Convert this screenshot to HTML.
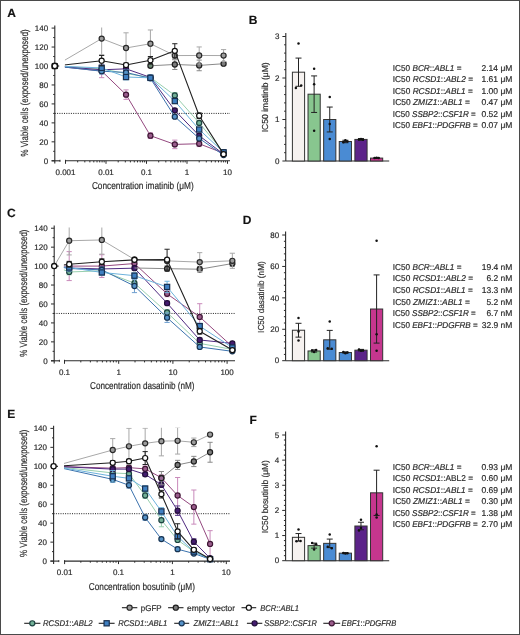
<!DOCTYPE html>
<html><head><meta charset="utf-8"><title>Figure</title>
<style>html,body{margin:0;padding:0;background:#fff;} svg{display:block;will-change:transform;} text{font-family:"Liberation Sans",sans-serif;stroke:#2a2a2a;stroke-width:0.18px;}</style>
</head><body>
<svg width="520" height="635" viewBox="0 0 520 635">
<rect x="0" y="0" width="520" height="635" fill="#fff"/>
<clipPath id="clipA"><rect x="64.90" y="10.800000000000011" width="200" height="160"/></clipPath>
<line x1="54.80" y1="113.40" x2="230.00" y2="113.40" stroke="#222" stroke-width="1" stroke-dasharray="1 1.3"/>
<line x1="54.8" y1="25.48" x2="54.8" y2="163.60" stroke="#2b2b2b" stroke-width="1.1"/>
<line x1="51.60" y1="160.80" x2="54.8" y2="160.80" stroke="#2b2b2b" stroke-width="1"/>
<text x="48.20" y="163.70" font-size="8" text-anchor="end" fill="#2a2a2a" font-family="Liberation Sans, sans-serif" text-rendering="geometricPrecision">0</text>
<line x1="53.20" y1="151.32" x2="54.8" y2="151.32" stroke="#2b2b2b" stroke-width="1"/>
<line x1="51.60" y1="141.84" x2="54.8" y2="141.84" stroke="#2b2b2b" stroke-width="1"/>
<text x="48.20" y="144.74" font-size="8" text-anchor="end" fill="#2a2a2a" font-family="Liberation Sans, sans-serif" text-rendering="geometricPrecision">20</text>
<line x1="53.20" y1="132.36" x2="54.8" y2="132.36" stroke="#2b2b2b" stroke-width="1"/>
<line x1="51.60" y1="122.88" x2="54.8" y2="122.88" stroke="#2b2b2b" stroke-width="1"/>
<text x="48.20" y="125.78" font-size="8" text-anchor="end" fill="#2a2a2a" font-family="Liberation Sans, sans-serif" text-rendering="geometricPrecision">40</text>
<line x1="53.20" y1="113.40" x2="54.8" y2="113.40" stroke="#2b2b2b" stroke-width="1"/>
<line x1="51.60" y1="103.92" x2="54.8" y2="103.92" stroke="#2b2b2b" stroke-width="1"/>
<text x="48.20" y="106.82" font-size="8" text-anchor="end" fill="#2a2a2a" font-family="Liberation Sans, sans-serif" text-rendering="geometricPrecision">60</text>
<line x1="53.20" y1="94.44" x2="54.8" y2="94.44" stroke="#2b2b2b" stroke-width="1"/>
<line x1="51.60" y1="84.96" x2="54.8" y2="84.96" stroke="#2b2b2b" stroke-width="1"/>
<text x="48.20" y="87.86" font-size="8" text-anchor="end" fill="#2a2a2a" font-family="Liberation Sans, sans-serif" text-rendering="geometricPrecision">80</text>
<line x1="53.20" y1="75.48" x2="54.8" y2="75.48" stroke="#2b2b2b" stroke-width="1"/>
<line x1="51.60" y1="66.00" x2="54.8" y2="66.00" stroke="#2b2b2b" stroke-width="1"/>
<text x="48.20" y="68.90" font-size="8" text-anchor="end" fill="#2a2a2a" font-family="Liberation Sans, sans-serif" text-rendering="geometricPrecision">100</text>
<line x1="53.20" y1="56.52" x2="54.8" y2="56.52" stroke="#2b2b2b" stroke-width="1"/>
<line x1="51.60" y1="47.04" x2="54.8" y2="47.04" stroke="#2b2b2b" stroke-width="1"/>
<text x="48.20" y="49.94" font-size="8" text-anchor="end" fill="#2a2a2a" font-family="Liberation Sans, sans-serif" text-rendering="geometricPrecision">120</text>
<line x1="53.20" y1="37.56" x2="54.8" y2="37.56" stroke="#2b2b2b" stroke-width="1"/>
<line x1="51.60" y1="28.08" x2="54.8" y2="28.08" stroke="#2b2b2b" stroke-width="1"/>
<text x="48.20" y="30.98" font-size="8" text-anchor="end" fill="#2a2a2a" font-family="Liberation Sans, sans-serif" text-rendering="geometricPrecision">140</text>
<line x1="51.599999999999994" y1="160.80" x2="60.00" y2="160.80" stroke="#2b2b2b" stroke-width="1.1"/>
<line x1="60.00" y1="159.80" x2="60.00" y2="161.80" stroke="#2b2b2b" stroke-width="1"/>
<line x1="65.50" y1="160.80" x2="230.00" y2="160.80" stroke="#2b2b2b" stroke-width="1.1"/>
<line x1="65.50" y1="159.80" x2="65.50" y2="161.80" stroke="#2b2b2b" stroke-width="1"/>
<line x1="65.50" y1="160.80" x2="65.50" y2="163.80" stroke="#2b2b2b" stroke-width="1"/>
<line x1="77.69" y1="160.80" x2="77.69" y2="162.40" stroke="#2b2b2b" stroke-width="1"/>
<line x1="84.82" y1="160.80" x2="84.82" y2="162.40" stroke="#2b2b2b" stroke-width="1"/>
<line x1="89.88" y1="160.80" x2="89.88" y2="162.40" stroke="#2b2b2b" stroke-width="1"/>
<line x1="93.81" y1="160.80" x2="93.81" y2="162.40" stroke="#2b2b2b" stroke-width="1"/>
<line x1="97.02" y1="160.80" x2="97.02" y2="162.40" stroke="#2b2b2b" stroke-width="1"/>
<line x1="99.73" y1="160.80" x2="99.73" y2="162.40" stroke="#2b2b2b" stroke-width="1"/>
<line x1="102.08" y1="160.80" x2="102.08" y2="162.40" stroke="#2b2b2b" stroke-width="1"/>
<line x1="104.15" y1="160.80" x2="104.15" y2="162.40" stroke="#2b2b2b" stroke-width="1"/>
<line x1="106.00" y1="160.80" x2="106.00" y2="163.80" stroke="#2b2b2b" stroke-width="1"/>
<line x1="118.19" y1="160.80" x2="118.19" y2="162.40" stroke="#2b2b2b" stroke-width="1"/>
<line x1="125.32" y1="160.80" x2="125.32" y2="162.40" stroke="#2b2b2b" stroke-width="1"/>
<line x1="130.38" y1="160.80" x2="130.38" y2="162.40" stroke="#2b2b2b" stroke-width="1"/>
<line x1="134.31" y1="160.80" x2="134.31" y2="162.40" stroke="#2b2b2b" stroke-width="1"/>
<line x1="137.52" y1="160.80" x2="137.52" y2="162.40" stroke="#2b2b2b" stroke-width="1"/>
<line x1="140.23" y1="160.80" x2="140.23" y2="162.40" stroke="#2b2b2b" stroke-width="1"/>
<line x1="142.58" y1="160.80" x2="142.58" y2="162.40" stroke="#2b2b2b" stroke-width="1"/>
<line x1="144.65" y1="160.80" x2="144.65" y2="162.40" stroke="#2b2b2b" stroke-width="1"/>
<line x1="146.50" y1="160.80" x2="146.50" y2="163.80" stroke="#2b2b2b" stroke-width="1"/>
<line x1="158.69" y1="160.80" x2="158.69" y2="162.40" stroke="#2b2b2b" stroke-width="1"/>
<line x1="165.82" y1="160.80" x2="165.82" y2="162.40" stroke="#2b2b2b" stroke-width="1"/>
<line x1="170.88" y1="160.80" x2="170.88" y2="162.40" stroke="#2b2b2b" stroke-width="1"/>
<line x1="174.81" y1="160.80" x2="174.81" y2="162.40" stroke="#2b2b2b" stroke-width="1"/>
<line x1="178.02" y1="160.80" x2="178.02" y2="162.40" stroke="#2b2b2b" stroke-width="1"/>
<line x1="180.73" y1="160.80" x2="180.73" y2="162.40" stroke="#2b2b2b" stroke-width="1"/>
<line x1="183.08" y1="160.80" x2="183.08" y2="162.40" stroke="#2b2b2b" stroke-width="1"/>
<line x1="185.15" y1="160.80" x2="185.15" y2="162.40" stroke="#2b2b2b" stroke-width="1"/>
<line x1="187.00" y1="160.80" x2="187.00" y2="163.80" stroke="#2b2b2b" stroke-width="1"/>
<line x1="199.19" y1="160.80" x2="199.19" y2="162.40" stroke="#2b2b2b" stroke-width="1"/>
<line x1="206.32" y1="160.80" x2="206.32" y2="162.40" stroke="#2b2b2b" stroke-width="1"/>
<line x1="211.38" y1="160.80" x2="211.38" y2="162.40" stroke="#2b2b2b" stroke-width="1"/>
<line x1="215.31" y1="160.80" x2="215.31" y2="162.40" stroke="#2b2b2b" stroke-width="1"/>
<line x1="218.52" y1="160.80" x2="218.52" y2="162.40" stroke="#2b2b2b" stroke-width="1"/>
<line x1="221.23" y1="160.80" x2="221.23" y2="162.40" stroke="#2b2b2b" stroke-width="1"/>
<line x1="223.58" y1="160.80" x2="223.58" y2="162.40" stroke="#2b2b2b" stroke-width="1"/>
<line x1="225.65" y1="160.80" x2="225.65" y2="162.40" stroke="#2b2b2b" stroke-width="1"/>
<line x1="227.50" y1="160.80" x2="227.50" y2="163.80" stroke="#2b2b2b" stroke-width="1"/>
<text x="65.50" y="174.60" font-size="8" text-anchor="middle" fill="#2a2a2a" font-family="Liberation Sans, sans-serif" text-rendering="geometricPrecision">0.001</text>
<text x="106.00" y="174.60" font-size="8" text-anchor="middle" fill="#2a2a2a" font-family="Liberation Sans, sans-serif" text-rendering="geometricPrecision">0.01</text>
<text x="146.50" y="174.60" font-size="8" text-anchor="middle" fill="#2a2a2a" font-family="Liberation Sans, sans-serif" text-rendering="geometricPrecision">0.1</text>
<text x="187.00" y="174.60" font-size="8" text-anchor="middle" fill="#2a2a2a" font-family="Liberation Sans, sans-serif" text-rendering="geometricPrecision">1</text>
<text x="227.50" y="174.60" font-size="8" text-anchor="middle" fill="#2a2a2a" font-family="Liberation Sans, sans-serif" text-rendering="geometricPrecision">10</text>
<text x="91.90" y="189.20" font-size="10" fill="#2a2a2a" font-family="Liberation Sans, sans-serif" text-rendering="geometricPrecision" textLength="101.8" lengthAdjust="spacingAndGlyphs">Concentration imatinib (μM)</text>
<text transform="translate(28.4,156.6) rotate(-90)" x="0" y="0" font-size="10.3" fill="#2a2a2a" font-family="Liberation Sans, sans-serif" text-rendering="geometricPrecision" textLength="127.3" lengthAdjust="spacingAndGlyphs">% Viable cells (exposed/unexposed)</text>
<text x="7.3" y="16.9" font-size="12" font-weight="bold" fill="#111" stroke="#111" stroke-width="0.25" font-family="Liberation Sans, sans-serif" text-rendering="geometricPrecision">A</text>
<clipPath id="topA"><rect x="0" y="27.48" width="260" height="143.32"/></clipPath>
<g clip-path="url(#topA)">
<g clip-path="url(#clipA)"><polyline points="54.80,66.00 101.66,71.02 126.04,94.63 150.42,135.68 174.81,144.40 199.19,143.74 223.58,153.22" fill="none" stroke="#94487f" stroke-width="1.0" stroke-linejoin="round"/></g>
<line x1="101.66" y1="64.39" x2="101.66" y2="77.66" stroke="#c98abb" stroke-width="1"/>
<line x1="99.06" y1="64.39" x2="104.26" y2="64.39" stroke="#c98abb" stroke-width="1"/>
<line x1="99.06" y1="77.66" x2="104.26" y2="77.66" stroke="#c98abb" stroke-width="1"/>
<line x1="126.04" y1="89.89" x2="126.04" y2="99.37" stroke="#c98abb" stroke-width="1"/>
<line x1="123.44" y1="89.89" x2="128.64" y2="89.89" stroke="#c98abb" stroke-width="1"/>
<line x1="123.44" y1="99.37" x2="128.64" y2="99.37" stroke="#c98abb" stroke-width="1"/>
<line x1="150.42" y1="132.83" x2="150.42" y2="138.52" stroke="#c98abb" stroke-width="1"/>
<line x1="147.82" y1="132.83" x2="153.02" y2="132.83" stroke="#c98abb" stroke-width="1"/>
<line x1="147.82" y1="138.52" x2="153.02" y2="138.52" stroke="#c98abb" stroke-width="1"/>
<line x1="174.81" y1="140.13" x2="174.81" y2="148.67" stroke="#c98abb" stroke-width="1"/>
<line x1="172.21" y1="140.13" x2="177.41" y2="140.13" stroke="#c98abb" stroke-width="1"/>
<line x1="172.21" y1="148.67" x2="177.41" y2="148.67" stroke="#c98abb" stroke-width="1"/>
<line x1="199.19" y1="140.89" x2="199.19" y2="146.58" stroke="#c98abb" stroke-width="1"/>
<line x1="196.59" y1="140.89" x2="201.79" y2="140.89" stroke="#c98abb" stroke-width="1"/>
<line x1="196.59" y1="146.58" x2="201.79" y2="146.58" stroke="#c98abb" stroke-width="1"/>
<line x1="223.58" y1="152.27" x2="223.58" y2="154.16" stroke="#c98abb" stroke-width="1"/>
<line x1="220.98" y1="152.27" x2="226.18" y2="152.27" stroke="#c98abb" stroke-width="1"/>
<line x1="220.98" y1="154.16" x2="226.18" y2="154.16" stroke="#c98abb" stroke-width="1"/>
<circle cx="101.66" cy="71.02" r="2.55" fill="#9a5c8c" stroke="#3e1634" stroke-width="1.2"/>
<circle cx="126.04" cy="94.63" r="2.55" fill="#9a5c8c" stroke="#3e1634" stroke-width="1.2"/>
<circle cx="150.42" cy="135.68" r="2.55" fill="#9a5c8c" stroke="#3e1634" stroke-width="1.2"/>
<circle cx="174.81" cy="144.40" r="2.55" fill="#9a5c8c" stroke="#3e1634" stroke-width="1.2"/>
<circle cx="199.19" cy="143.74" r="2.55" fill="#9a5c8c" stroke="#3e1634" stroke-width="1.2"/>
<circle cx="223.58" cy="153.22" r="2.55" fill="#9a5c8c" stroke="#3e1634" stroke-width="1.2"/>
<g clip-path="url(#clipA)"><polyline points="54.80,66.00 101.66,68.84 126.04,73.58 150.42,77.38 174.81,95.39 199.19,122.88 223.58,152.27" fill="none" stroke="#98cfae" stroke-width="1.0" stroke-linejoin="round"/></g>
<line x1="174.81" y1="92.54" x2="174.81" y2="98.23" stroke="#98cfae" stroke-width="1"/>
<line x1="172.21" y1="92.54" x2="177.41" y2="92.54" stroke="#98cfae" stroke-width="1"/>
<line x1="172.21" y1="98.23" x2="177.41" y2="98.23" stroke="#98cfae" stroke-width="1"/>
<line x1="199.19" y1="120.98" x2="199.19" y2="124.78" stroke="#98cfae" stroke-width="1"/>
<line x1="196.59" y1="120.98" x2="201.79" y2="120.98" stroke="#98cfae" stroke-width="1"/>
<line x1="196.59" y1="124.78" x2="201.79" y2="124.78" stroke="#98cfae" stroke-width="1"/>
<line x1="223.58" y1="150.37" x2="223.58" y2="154.16" stroke="#98cfae" stroke-width="1"/>
<line x1="220.98" y1="150.37" x2="226.18" y2="150.37" stroke="#98cfae" stroke-width="1"/>
<line x1="220.98" y1="154.16" x2="226.18" y2="154.16" stroke="#98cfae" stroke-width="1"/>
<circle cx="101.66" cy="68.84" r="2.55" fill="#72b096" stroke="#1c4240" stroke-width="1.2"/>
<circle cx="126.04" cy="73.58" r="2.55" fill="#72b096" stroke="#1c4240" stroke-width="1.2"/>
<circle cx="150.42" cy="77.38" r="2.55" fill="#72b096" stroke="#1c4240" stroke-width="1.2"/>
<circle cx="174.81" cy="95.39" r="2.55" fill="#72b096" stroke="#1c4240" stroke-width="1.2"/>
<circle cx="199.19" cy="122.88" r="2.55" fill="#72b096" stroke="#1c4240" stroke-width="1.2"/>
<circle cx="223.58" cy="152.27" r="2.55" fill="#72b096" stroke="#1c4240" stroke-width="1.2"/>
<g clip-path="url(#clipA)"><polyline points="54.80,66.00 101.66,69.79 126.04,68.84 150.42,77.38 174.81,110.37 199.19,135.68 223.58,154.16" fill="none" stroke="#4f2a80" stroke-width="1.0" stroke-linejoin="round"/></g>
<line x1="174.81" y1="108.47" x2="174.81" y2="112.26" stroke="#5a3a88" stroke-width="1"/>
<line x1="172.21" y1="108.47" x2="177.41" y2="108.47" stroke="#5a3a88" stroke-width="1"/>
<line x1="172.21" y1="112.26" x2="177.41" y2="112.26" stroke="#5a3a88" stroke-width="1"/>
<line x1="199.19" y1="133.78" x2="199.19" y2="137.57" stroke="#5a3a88" stroke-width="1"/>
<line x1="196.59" y1="133.78" x2="201.79" y2="133.78" stroke="#5a3a88" stroke-width="1"/>
<line x1="196.59" y1="137.57" x2="201.79" y2="137.57" stroke="#5a3a88" stroke-width="1"/>
<line x1="223.58" y1="153.22" x2="223.58" y2="155.11" stroke="#5a3a88" stroke-width="1"/>
<line x1="220.98" y1="153.22" x2="226.18" y2="153.22" stroke="#5a3a88" stroke-width="1"/>
<line x1="220.98" y1="155.11" x2="226.18" y2="155.11" stroke="#5a3a88" stroke-width="1"/>
<circle cx="101.66" cy="69.79" r="2.55" fill="#441c70" stroke="#23103a" stroke-width="1.2"/>
<circle cx="126.04" cy="68.84" r="2.55" fill="#441c70" stroke="#23103a" stroke-width="1.2"/>
<circle cx="150.42" cy="77.38" r="2.55" fill="#441c70" stroke="#23103a" stroke-width="1.2"/>
<circle cx="174.81" cy="110.37" r="2.55" fill="#441c70" stroke="#23103a" stroke-width="1.2"/>
<circle cx="199.19" cy="135.68" r="2.55" fill="#441c70" stroke="#23103a" stroke-width="1.2"/>
<circle cx="223.58" cy="154.16" r="2.55" fill="#441c70" stroke="#23103a" stroke-width="1.2"/>
<g clip-path="url(#clipA)"><polyline points="54.80,66.00 101.66,71.21 126.04,72.45 150.42,78.32 174.81,116.72 199.19,138.43 223.58,155.11" fill="none" stroke="#3b72ad" stroke-width="1.0" stroke-linejoin="round"/></g>
<line x1="101.66" y1="68.37" x2="101.66" y2="74.06" stroke="#6f9fcf" stroke-width="1"/>
<line x1="99.06" y1="68.37" x2="104.26" y2="68.37" stroke="#6f9fcf" stroke-width="1"/>
<line x1="99.06" y1="74.06" x2="104.26" y2="74.06" stroke="#6f9fcf" stroke-width="1"/>
<line x1="126.04" y1="69.60" x2="126.04" y2="75.29" stroke="#6f9fcf" stroke-width="1"/>
<line x1="123.44" y1="69.60" x2="128.64" y2="69.60" stroke="#6f9fcf" stroke-width="1"/>
<line x1="123.44" y1="75.29" x2="128.64" y2="75.29" stroke="#6f9fcf" stroke-width="1"/>
<line x1="150.42" y1="76.43" x2="150.42" y2="80.22" stroke="#6f9fcf" stroke-width="1"/>
<line x1="147.82" y1="76.43" x2="153.02" y2="76.43" stroke="#6f9fcf" stroke-width="1"/>
<line x1="147.82" y1="80.22" x2="153.02" y2="80.22" stroke="#6f9fcf" stroke-width="1"/>
<line x1="174.81" y1="114.82" x2="174.81" y2="118.61" stroke="#6f9fcf" stroke-width="1"/>
<line x1="172.21" y1="114.82" x2="177.41" y2="114.82" stroke="#6f9fcf" stroke-width="1"/>
<line x1="172.21" y1="118.61" x2="177.41" y2="118.61" stroke="#6f9fcf" stroke-width="1"/>
<line x1="199.19" y1="136.53" x2="199.19" y2="140.32" stroke="#6f9fcf" stroke-width="1"/>
<line x1="196.59" y1="136.53" x2="201.79" y2="136.53" stroke="#6f9fcf" stroke-width="1"/>
<line x1="196.59" y1="140.32" x2="201.79" y2="140.32" stroke="#6f9fcf" stroke-width="1"/>
<line x1="223.58" y1="154.16" x2="223.58" y2="156.06" stroke="#6f9fcf" stroke-width="1"/>
<line x1="220.98" y1="154.16" x2="226.18" y2="154.16" stroke="#6f9fcf" stroke-width="1"/>
<line x1="220.98" y1="156.06" x2="226.18" y2="156.06" stroke="#6f9fcf" stroke-width="1"/>
<circle cx="101.66" cy="71.21" r="2.55" fill="#5592c8" stroke="#17324f" stroke-width="1.2"/>
<circle cx="126.04" cy="72.45" r="2.55" fill="#5592c8" stroke="#17324f" stroke-width="1.2"/>
<circle cx="150.42" cy="78.32" r="2.55" fill="#5592c8" stroke="#17324f" stroke-width="1.2"/>
<circle cx="174.81" cy="116.72" r="2.55" fill="#5592c8" stroke="#17324f" stroke-width="1.2"/>
<circle cx="199.19" cy="138.43" r="2.55" fill="#5592c8" stroke="#17324f" stroke-width="1.2"/>
<circle cx="223.58" cy="155.11" r="2.55" fill="#5592c8" stroke="#17324f" stroke-width="1.2"/>
<g clip-path="url(#clipA)"><polyline points="54.80,66.00 101.66,67.90 126.04,77.00 150.42,77.85 174.81,101.08 199.19,129.52 223.58,152.27" fill="none" stroke="#6cb2dc" stroke-width="1.0" stroke-linejoin="round"/></g>
<line x1="101.66" y1="65.05" x2="101.66" y2="70.74" stroke="#6cb2dc" stroke-width="1"/>
<line x1="99.06" y1="65.05" x2="104.26" y2="65.05" stroke="#6cb2dc" stroke-width="1"/>
<line x1="99.06" y1="70.74" x2="104.26" y2="70.74" stroke="#6cb2dc" stroke-width="1"/>
<line x1="126.04" y1="74.15" x2="126.04" y2="79.84" stroke="#6cb2dc" stroke-width="1"/>
<line x1="123.44" y1="74.15" x2="128.64" y2="74.15" stroke="#6cb2dc" stroke-width="1"/>
<line x1="123.44" y1="79.84" x2="128.64" y2="79.84" stroke="#6cb2dc" stroke-width="1"/>
<line x1="150.42" y1="75.01" x2="150.42" y2="80.69" stroke="#6cb2dc" stroke-width="1"/>
<line x1="147.82" y1="75.01" x2="153.02" y2="75.01" stroke="#6cb2dc" stroke-width="1"/>
<line x1="147.82" y1="80.69" x2="153.02" y2="80.69" stroke="#6cb2dc" stroke-width="1"/>
<line x1="174.81" y1="99.18" x2="174.81" y2="102.97" stroke="#6cb2dc" stroke-width="1"/>
<line x1="172.21" y1="99.18" x2="177.41" y2="99.18" stroke="#6cb2dc" stroke-width="1"/>
<line x1="172.21" y1="102.97" x2="177.41" y2="102.97" stroke="#6cb2dc" stroke-width="1"/>
<line x1="199.19" y1="127.62" x2="199.19" y2="131.41" stroke="#6cb2dc" stroke-width="1"/>
<line x1="196.59" y1="127.62" x2="201.79" y2="127.62" stroke="#6cb2dc" stroke-width="1"/>
<line x1="196.59" y1="131.41" x2="201.79" y2="131.41" stroke="#6cb2dc" stroke-width="1"/>
<line x1="223.58" y1="151.32" x2="223.58" y2="153.22" stroke="#6cb2dc" stroke-width="1"/>
<line x1="220.98" y1="151.32" x2="226.18" y2="151.32" stroke="#6cb2dc" stroke-width="1"/>
<line x1="220.98" y1="153.22" x2="226.18" y2="153.22" stroke="#6cb2dc" stroke-width="1"/>
<rect x="99.06" y="65.30" width="5.2" height="5.2" fill="#3f80c2" stroke="#182f4f" stroke-width="1.2"/>
<rect x="123.44" y="74.40" width="5.2" height="5.2" fill="#3f80c2" stroke="#182f4f" stroke-width="1.2"/>
<rect x="147.82" y="75.25" width="5.2" height="5.2" fill="#3f80c2" stroke="#182f4f" stroke-width="1.2"/>
<rect x="172.21" y="98.48" width="5.2" height="5.2" fill="#3f80c2" stroke="#182f4f" stroke-width="1.2"/>
<rect x="196.59" y="126.92" width="5.2" height="5.2" fill="#3f80c2" stroke="#182f4f" stroke-width="1.2"/>
<rect x="220.98" y="149.67" width="5.2" height="5.2" fill="#3f80c2" stroke="#182f4f" stroke-width="1.2"/>
<g clip-path="url(#clipA)"><polyline points="150.42,65.81 174.81,64.48 199.19,65.43 223.58,63.72" fill="none" stroke="#8a8a8a" stroke-width="1.0" stroke-linejoin="round"/></g>
<line x1="150.42" y1="63.91" x2="150.42" y2="67.71" stroke="#8a8a8a" stroke-width="1"/>
<line x1="147.82" y1="63.91" x2="153.02" y2="63.91" stroke="#8a8a8a" stroke-width="1"/>
<line x1="147.82" y1="67.71" x2="153.02" y2="67.71" stroke="#8a8a8a" stroke-width="1"/>
<line x1="174.81" y1="59.46" x2="174.81" y2="69.51" stroke="#8a8a8a" stroke-width="1"/>
<line x1="172.21" y1="59.46" x2="177.41" y2="59.46" stroke="#8a8a8a" stroke-width="1"/>
<line x1="172.21" y1="69.51" x2="177.41" y2="69.51" stroke="#8a8a8a" stroke-width="1"/>
<line x1="199.19" y1="60.12" x2="199.19" y2="70.74" stroke="#8a8a8a" stroke-width="1"/>
<line x1="196.59" y1="60.12" x2="201.79" y2="60.12" stroke="#8a8a8a" stroke-width="1"/>
<line x1="196.59" y1="70.74" x2="201.79" y2="70.74" stroke="#8a8a8a" stroke-width="1"/>
<line x1="223.58" y1="61.83" x2="223.58" y2="65.62" stroke="#8a8a8a" stroke-width="1"/>
<line x1="220.98" y1="61.83" x2="226.18" y2="61.83" stroke="#8a8a8a" stroke-width="1"/>
<line x1="220.98" y1="65.62" x2="226.18" y2="65.62" stroke="#8a8a8a" stroke-width="1"/>
<circle cx="150.42" cy="65.81" r="2.55" fill="#6f8a76" stroke="#1e1e1e" stroke-width="1.2"/>
<circle cx="174.81" cy="64.48" r="2.55" fill="#7c7c7c" stroke="#1e1e1e" stroke-width="1.2"/>
<circle cx="199.19" cy="65.43" r="2.55" fill="#7c7c7c" stroke="#1e1e1e" stroke-width="1.2"/>
<circle cx="223.58" cy="63.72" r="2.55" fill="#7c7c7c" stroke="#1e1e1e" stroke-width="1.2"/>
<g clip-path="url(#clipA)"><polyline points="54.80,66.00 101.66,38.60 126.04,47.99 150.42,43.72 174.81,55.57 199.19,55.48 223.58,55.57" fill="none" stroke="#a8a8a8" stroke-width="1.0" stroke-linejoin="round"/></g>
<line x1="101.66" y1="22.49" x2="101.66" y2="54.72" stroke="#a8a8a8" stroke-width="1"/>
<line x1="99.06" y1="22.49" x2="104.26" y2="22.49" stroke="#a8a8a8" stroke-width="1"/>
<line x1="99.06" y1="54.72" x2="104.26" y2="54.72" stroke="#a8a8a8" stroke-width="1"/>
<line x1="126.04" y1="32.82" x2="126.04" y2="63.16" stroke="#a8a8a8" stroke-width="1"/>
<line x1="123.44" y1="32.82" x2="128.64" y2="32.82" stroke="#a8a8a8" stroke-width="1"/>
<line x1="123.44" y1="63.16" x2="128.64" y2="63.16" stroke="#a8a8a8" stroke-width="1"/>
<line x1="150.42" y1="29.98" x2="150.42" y2="57.47" stroke="#a8a8a8" stroke-width="1"/>
<line x1="147.82" y1="29.98" x2="153.02" y2="29.98" stroke="#a8a8a8" stroke-width="1"/>
<line x1="147.82" y1="57.47" x2="153.02" y2="57.47" stroke="#a8a8a8" stroke-width="1"/>
<line x1="174.81" y1="51.31" x2="174.81" y2="59.84" stroke="#a8a8a8" stroke-width="1"/>
<line x1="172.21" y1="51.31" x2="177.41" y2="51.31" stroke="#a8a8a8" stroke-width="1"/>
<line x1="172.21" y1="59.84" x2="177.41" y2="59.84" stroke="#a8a8a8" stroke-width="1"/>
<line x1="199.19" y1="46.95" x2="199.19" y2="64.01" stroke="#a8a8a8" stroke-width="1"/>
<line x1="196.59" y1="46.95" x2="201.79" y2="46.95" stroke="#a8a8a8" stroke-width="1"/>
<line x1="196.59" y1="64.01" x2="201.79" y2="64.01" stroke="#a8a8a8" stroke-width="1"/>
<line x1="223.58" y1="49.60" x2="223.58" y2="61.54" stroke="#a8a8a8" stroke-width="1"/>
<line x1="220.98" y1="49.60" x2="226.18" y2="49.60" stroke="#a8a8a8" stroke-width="1"/>
<line x1="220.98" y1="61.54" x2="226.18" y2="61.54" stroke="#a8a8a8" stroke-width="1"/>
<circle cx="101.66" cy="38.60" r="2.55" fill="#9c9c9c" stroke="#2a2a2a" stroke-width="1.2"/>
<circle cx="126.04" cy="47.99" r="2.55" fill="#9c9c9c" stroke="#2a2a2a" stroke-width="1.2"/>
<circle cx="150.42" cy="43.72" r="2.55" fill="#9c9c9c" stroke="#2a2a2a" stroke-width="1.2"/>
<circle cx="174.81" cy="55.57" r="2.55" fill="#9c9c9c" stroke="#2a2a2a" stroke-width="1.2"/>
<circle cx="199.19" cy="55.48" r="2.55" fill="#9c9c9c" stroke="#2a2a2a" stroke-width="1.2"/>
<circle cx="223.58" cy="55.57" r="2.55" fill="#9c9c9c" stroke="#2a2a2a" stroke-width="1.2"/>
<g clip-path="url(#clipA)"><polyline points="54.80,66.00 101.66,60.69 126.04,65.05 150.42,60.31 174.81,50.83 199.19,115.77 223.58,154.16" fill="none" stroke="#222" stroke-width="1.1" stroke-linejoin="round"/></g>
<line x1="101.66" y1="55.48" x2="101.66" y2="65.91" stroke="#222" stroke-width="1"/>
<line x1="99.06" y1="55.48" x2="104.26" y2="55.48" stroke="#222" stroke-width="1"/>
<line x1="99.06" y1="65.91" x2="104.26" y2="65.91" stroke="#222" stroke-width="1"/>
<line x1="126.04" y1="63.16" x2="126.04" y2="66.95" stroke="#222" stroke-width="1"/>
<line x1="123.44" y1="63.16" x2="128.64" y2="63.16" stroke="#222" stroke-width="1"/>
<line x1="123.44" y1="66.95" x2="128.64" y2="66.95" stroke="#222" stroke-width="1"/>
<line x1="150.42" y1="56.52" x2="150.42" y2="64.10" stroke="#222" stroke-width="1"/>
<line x1="147.82" y1="56.52" x2="153.02" y2="56.52" stroke="#222" stroke-width="1"/>
<line x1="147.82" y1="64.10" x2="153.02" y2="64.10" stroke="#222" stroke-width="1"/>
<line x1="174.81" y1="43.72" x2="174.81" y2="57.94" stroke="#222" stroke-width="1"/>
<line x1="172.21" y1="43.72" x2="177.41" y2="43.72" stroke="#222" stroke-width="1"/>
<line x1="172.21" y1="57.94" x2="177.41" y2="57.94" stroke="#222" stroke-width="1"/>
<line x1="199.19" y1="112.93" x2="199.19" y2="118.61" stroke="#222" stroke-width="1"/>
<line x1="196.59" y1="112.93" x2="201.79" y2="112.93" stroke="#222" stroke-width="1"/>
<line x1="196.59" y1="118.61" x2="201.79" y2="118.61" stroke="#222" stroke-width="1"/>
<line x1="223.58" y1="153.22" x2="223.58" y2="155.11" stroke="#222" stroke-width="1"/>
<line x1="220.98" y1="153.22" x2="226.18" y2="153.22" stroke="#222" stroke-width="1"/>
<line x1="220.98" y1="155.11" x2="226.18" y2="155.11" stroke="#222" stroke-width="1"/>
<circle cx="101.66" cy="60.69" r="2.55" fill="#ffffff" stroke="#111" stroke-width="1.2"/>
<circle cx="126.04" cy="65.05" r="2.55" fill="#ffffff" stroke="#111" stroke-width="1.2"/>
<circle cx="150.42" cy="60.31" r="2.55" fill="#ffffff" stroke="#111" stroke-width="1.2"/>
<circle cx="174.81" cy="50.83" r="2.55" fill="#ffffff" stroke="#111" stroke-width="1.2"/>
<circle cx="199.19" cy="115.77" r="2.55" fill="#ffffff" stroke="#111" stroke-width="1.2"/>
<circle cx="223.58" cy="154.16" r="2.55" fill="#ffffff" stroke="#111" stroke-width="1.2"/>
</g>
<line x1="56.80" y1="66.00" x2="59.20" y2="66.00" stroke="#111" stroke-width="1.1"/>
<rect x="52.10" y="63.30" width="5.4" height="5.4" rx="1" fill="#fff" stroke="#111" stroke-width="1.3"/>
<circle cx="54.80" cy="66.00" r="2.6" fill="#fff" stroke="#111" stroke-width="1.3"/>
<clipPath id="clipC"><rect x="63.90" y="210.8" width="200" height="160"/></clipPath>
<line x1="54.20" y1="313.45" x2="235.00" y2="313.45" stroke="#222" stroke-width="1" stroke-dasharray="1 1.3"/>
<line x1="54.2" y1="225.62" x2="54.2" y2="363.60" stroke="#2b2b2b" stroke-width="1.1"/>
<line x1="51.00" y1="360.80" x2="54.2" y2="360.80" stroke="#2b2b2b" stroke-width="1"/>
<text x="47.60" y="363.70" font-size="8" text-anchor="end" fill="#2a2a2a" font-family="Liberation Sans, sans-serif" text-rendering="geometricPrecision">0</text>
<line x1="52.60" y1="351.33" x2="54.2" y2="351.33" stroke="#2b2b2b" stroke-width="1"/>
<line x1="51.00" y1="341.86" x2="54.2" y2="341.86" stroke="#2b2b2b" stroke-width="1"/>
<text x="47.60" y="344.76" font-size="8" text-anchor="end" fill="#2a2a2a" font-family="Liberation Sans, sans-serif" text-rendering="geometricPrecision">20</text>
<line x1="52.60" y1="332.39" x2="54.2" y2="332.39" stroke="#2b2b2b" stroke-width="1"/>
<line x1="51.00" y1="322.92" x2="54.2" y2="322.92" stroke="#2b2b2b" stroke-width="1"/>
<text x="47.60" y="325.82" font-size="8" text-anchor="end" fill="#2a2a2a" font-family="Liberation Sans, sans-serif" text-rendering="geometricPrecision">40</text>
<line x1="52.60" y1="313.45" x2="54.2" y2="313.45" stroke="#2b2b2b" stroke-width="1"/>
<line x1="51.00" y1="303.98" x2="54.2" y2="303.98" stroke="#2b2b2b" stroke-width="1"/>
<text x="47.60" y="306.88" font-size="8" text-anchor="end" fill="#2a2a2a" font-family="Liberation Sans, sans-serif" text-rendering="geometricPrecision">60</text>
<line x1="52.60" y1="294.51" x2="54.2" y2="294.51" stroke="#2b2b2b" stroke-width="1"/>
<line x1="51.00" y1="285.04" x2="54.2" y2="285.04" stroke="#2b2b2b" stroke-width="1"/>
<text x="47.60" y="287.94" font-size="8" text-anchor="end" fill="#2a2a2a" font-family="Liberation Sans, sans-serif" text-rendering="geometricPrecision">80</text>
<line x1="52.60" y1="275.57" x2="54.2" y2="275.57" stroke="#2b2b2b" stroke-width="1"/>
<line x1="51.00" y1="266.10" x2="54.2" y2="266.10" stroke="#2b2b2b" stroke-width="1"/>
<text x="47.60" y="269.00" font-size="8" text-anchor="end" fill="#2a2a2a" font-family="Liberation Sans, sans-serif" text-rendering="geometricPrecision">100</text>
<line x1="52.60" y1="256.63" x2="54.2" y2="256.63" stroke="#2b2b2b" stroke-width="1"/>
<line x1="51.00" y1="247.16" x2="54.2" y2="247.16" stroke="#2b2b2b" stroke-width="1"/>
<text x="47.60" y="250.06" font-size="8" text-anchor="end" fill="#2a2a2a" font-family="Liberation Sans, sans-serif" text-rendering="geometricPrecision">120</text>
<line x1="52.60" y1="237.69" x2="54.2" y2="237.69" stroke="#2b2b2b" stroke-width="1"/>
<line x1="51.00" y1="228.22" x2="54.2" y2="228.22" stroke="#2b2b2b" stroke-width="1"/>
<text x="47.60" y="231.12" font-size="8" text-anchor="end" fill="#2a2a2a" font-family="Liberation Sans, sans-serif" text-rendering="geometricPrecision">140</text>
<line x1="51.0" y1="360.80" x2="59.40" y2="360.80" stroke="#2b2b2b" stroke-width="1.1"/>
<line x1="59.40" y1="359.80" x2="59.40" y2="361.80" stroke="#2b2b2b" stroke-width="1"/>
<line x1="64.50" y1="360.80" x2="235.00" y2="360.80" stroke="#2b2b2b" stroke-width="1.1"/>
<line x1="64.50" y1="359.80" x2="64.50" y2="361.80" stroke="#2b2b2b" stroke-width="1"/>
<line x1="64.50" y1="360.80" x2="64.50" y2="363.80" stroke="#2b2b2b" stroke-width="1"/>
<line x1="80.82" y1="360.80" x2="80.82" y2="362.40" stroke="#2b2b2b" stroke-width="1"/>
<line x1="90.36" y1="360.80" x2="90.36" y2="362.40" stroke="#2b2b2b" stroke-width="1"/>
<line x1="97.13" y1="360.80" x2="97.13" y2="362.40" stroke="#2b2b2b" stroke-width="1"/>
<line x1="102.38" y1="360.80" x2="102.38" y2="362.40" stroke="#2b2b2b" stroke-width="1"/>
<line x1="106.68" y1="360.80" x2="106.68" y2="362.40" stroke="#2b2b2b" stroke-width="1"/>
<line x1="110.30" y1="360.80" x2="110.30" y2="362.40" stroke="#2b2b2b" stroke-width="1"/>
<line x1="113.45" y1="360.80" x2="113.45" y2="362.40" stroke="#2b2b2b" stroke-width="1"/>
<line x1="116.22" y1="360.80" x2="116.22" y2="362.40" stroke="#2b2b2b" stroke-width="1"/>
<line x1="118.70" y1="360.80" x2="118.70" y2="363.80" stroke="#2b2b2b" stroke-width="1"/>
<line x1="135.02" y1="360.80" x2="135.02" y2="362.40" stroke="#2b2b2b" stroke-width="1"/>
<line x1="144.56" y1="360.80" x2="144.56" y2="362.40" stroke="#2b2b2b" stroke-width="1"/>
<line x1="151.33" y1="360.80" x2="151.33" y2="362.40" stroke="#2b2b2b" stroke-width="1"/>
<line x1="156.58" y1="360.80" x2="156.58" y2="362.40" stroke="#2b2b2b" stroke-width="1"/>
<line x1="160.88" y1="360.80" x2="160.88" y2="362.40" stroke="#2b2b2b" stroke-width="1"/>
<line x1="164.50" y1="360.80" x2="164.50" y2="362.40" stroke="#2b2b2b" stroke-width="1"/>
<line x1="167.65" y1="360.80" x2="167.65" y2="362.40" stroke="#2b2b2b" stroke-width="1"/>
<line x1="170.42" y1="360.80" x2="170.42" y2="362.40" stroke="#2b2b2b" stroke-width="1"/>
<line x1="172.90" y1="360.80" x2="172.90" y2="363.80" stroke="#2b2b2b" stroke-width="1"/>
<line x1="189.22" y1="360.80" x2="189.22" y2="362.40" stroke="#2b2b2b" stroke-width="1"/>
<line x1="198.76" y1="360.80" x2="198.76" y2="362.40" stroke="#2b2b2b" stroke-width="1"/>
<line x1="205.53" y1="360.80" x2="205.53" y2="362.40" stroke="#2b2b2b" stroke-width="1"/>
<line x1="210.78" y1="360.80" x2="210.78" y2="362.40" stroke="#2b2b2b" stroke-width="1"/>
<line x1="215.08" y1="360.80" x2="215.08" y2="362.40" stroke="#2b2b2b" stroke-width="1"/>
<line x1="218.70" y1="360.80" x2="218.70" y2="362.40" stroke="#2b2b2b" stroke-width="1"/>
<line x1="221.85" y1="360.80" x2="221.85" y2="362.40" stroke="#2b2b2b" stroke-width="1"/>
<line x1="224.62" y1="360.80" x2="224.62" y2="362.40" stroke="#2b2b2b" stroke-width="1"/>
<line x1="227.10" y1="360.80" x2="227.10" y2="363.80" stroke="#2b2b2b" stroke-width="1"/>
<text x="64.50" y="374.60" font-size="8" text-anchor="middle" fill="#2a2a2a" font-family="Liberation Sans, sans-serif" text-rendering="geometricPrecision">0.1</text>
<text x="118.70" y="374.60" font-size="8" text-anchor="middle" fill="#2a2a2a" font-family="Liberation Sans, sans-serif" text-rendering="geometricPrecision">1</text>
<text x="172.90" y="374.60" font-size="8" text-anchor="middle" fill="#2a2a2a" font-family="Liberation Sans, sans-serif" text-rendering="geometricPrecision">10</text>
<text x="227.10" y="374.60" font-size="8" text-anchor="middle" fill="#2a2a2a" font-family="Liberation Sans, sans-serif" text-rendering="geometricPrecision">100</text>
<text x="90.00" y="389.20" font-size="10" fill="#2a2a2a" font-family="Liberation Sans, sans-serif" text-rendering="geometricPrecision" textLength="104.5" lengthAdjust="spacingAndGlyphs">Concentration dasatinib (nM)</text>
<text transform="translate(27.2,356.8) rotate(-90)" x="0" y="0" font-size="10.3" fill="#2a2a2a" font-family="Liberation Sans, sans-serif" text-rendering="geometricPrecision" textLength="127.3" lengthAdjust="spacingAndGlyphs">% Viable cells (exposed/unexposed)</text>
<text x="7.0" y="217.1" font-size="12" font-weight="bold" fill="#111" stroke="#111" stroke-width="0.25" font-family="Liberation Sans, sans-serif" text-rendering="geometricPrecision">C</text>
<clipPath id="topC"><rect x="0" y="227.62" width="260" height="143.18"/></clipPath>
<g clip-path="url(#topC)">
<g clip-path="url(#clipC)"><polyline points="54.20,266.10 69.19,266.10 101.83,266.10 134.46,263.54 167.09,293.85 199.72,316.95 232.35,346.60" fill="none" stroke="#94487f" stroke-width="1.0" stroke-linejoin="round"/></g>
<line x1="69.19" y1="251.61" x2="69.19" y2="280.59" stroke="#c98abb" stroke-width="1"/>
<line x1="66.59" y1="251.61" x2="71.79" y2="251.61" stroke="#c98abb" stroke-width="1"/>
<line x1="66.59" y1="280.59" x2="71.79" y2="280.59" stroke="#c98abb" stroke-width="1"/>
<line x1="101.83" y1="254.74" x2="101.83" y2="277.46" stroke="#c98abb" stroke-width="1"/>
<line x1="99.23" y1="254.74" x2="104.43" y2="254.74" stroke="#c98abb" stroke-width="1"/>
<line x1="99.23" y1="277.46" x2="104.43" y2="277.46" stroke="#c98abb" stroke-width="1"/>
<line x1="134.46" y1="260.70" x2="134.46" y2="266.38" stroke="#c98abb" stroke-width="1"/>
<line x1="131.86" y1="260.70" x2="137.06" y2="260.70" stroke="#c98abb" stroke-width="1"/>
<line x1="131.86" y1="266.38" x2="137.06" y2="266.38" stroke="#c98abb" stroke-width="1"/>
<line x1="167.09" y1="291.01" x2="167.09" y2="296.69" stroke="#c98abb" stroke-width="1"/>
<line x1="164.49" y1="291.01" x2="169.69" y2="291.01" stroke="#c98abb" stroke-width="1"/>
<line x1="164.49" y1="296.69" x2="169.69" y2="296.69" stroke="#c98abb" stroke-width="1"/>
<line x1="199.72" y1="303.70" x2="199.72" y2="330.21" stroke="#c98abb" stroke-width="1"/>
<line x1="197.12" y1="303.70" x2="202.32" y2="303.70" stroke="#c98abb" stroke-width="1"/>
<line x1="197.12" y1="330.21" x2="202.32" y2="330.21" stroke="#c98abb" stroke-width="1"/>
<line x1="232.35" y1="344.70" x2="232.35" y2="348.49" stroke="#c98abb" stroke-width="1"/>
<line x1="229.75" y1="344.70" x2="234.95" y2="344.70" stroke="#c98abb" stroke-width="1"/>
<line x1="229.75" y1="348.49" x2="234.95" y2="348.49" stroke="#c98abb" stroke-width="1"/>
<circle cx="69.19" cy="266.10" r="2.55" fill="#9a5c8c" stroke="#3e1634" stroke-width="1.2"/>
<circle cx="101.83" cy="266.10" r="2.55" fill="#9a5c8c" stroke="#3e1634" stroke-width="1.2"/>
<circle cx="134.46" cy="263.54" r="2.55" fill="#9a5c8c" stroke="#3e1634" stroke-width="1.2"/>
<circle cx="167.09" cy="293.85" r="2.55" fill="#9a5c8c" stroke="#3e1634" stroke-width="1.2"/>
<circle cx="199.72" cy="316.95" r="2.55" fill="#9a5c8c" stroke="#3e1634" stroke-width="1.2"/>
<circle cx="232.35" cy="346.60" r="2.55" fill="#9a5c8c" stroke="#3e1634" stroke-width="1.2"/>
<g clip-path="url(#clipC)"><polyline points="54.20,266.10 69.19,271.97 101.83,270.84 134.46,283.15 167.09,312.50 199.72,343.38 232.35,349.44" fill="none" stroke="#98cfae" stroke-width="1.0" stroke-linejoin="round"/></g>
<line x1="69.19" y1="269.13" x2="69.19" y2="274.81" stroke="#98cfae" stroke-width="1"/>
<line x1="66.59" y1="269.13" x2="71.79" y2="269.13" stroke="#98cfae" stroke-width="1"/>
<line x1="66.59" y1="274.81" x2="71.79" y2="274.81" stroke="#98cfae" stroke-width="1"/>
<line x1="101.83" y1="267.99" x2="101.83" y2="273.68" stroke="#98cfae" stroke-width="1"/>
<line x1="99.23" y1="267.99" x2="104.43" y2="267.99" stroke="#98cfae" stroke-width="1"/>
<line x1="99.23" y1="273.68" x2="104.43" y2="273.68" stroke="#98cfae" stroke-width="1"/>
<line x1="134.46" y1="280.31" x2="134.46" y2="285.99" stroke="#98cfae" stroke-width="1"/>
<line x1="131.86" y1="280.31" x2="137.06" y2="280.31" stroke="#98cfae" stroke-width="1"/>
<line x1="131.86" y1="285.99" x2="137.06" y2="285.99" stroke="#98cfae" stroke-width="1"/>
<line x1="167.09" y1="309.66" x2="167.09" y2="315.34" stroke="#98cfae" stroke-width="1"/>
<line x1="164.49" y1="309.66" x2="169.69" y2="309.66" stroke="#98cfae" stroke-width="1"/>
<line x1="164.49" y1="315.34" x2="169.69" y2="315.34" stroke="#98cfae" stroke-width="1"/>
<line x1="199.72" y1="341.48" x2="199.72" y2="345.27" stroke="#98cfae" stroke-width="1"/>
<line x1="197.12" y1="341.48" x2="202.32" y2="341.48" stroke="#98cfae" stroke-width="1"/>
<line x1="197.12" y1="345.27" x2="202.32" y2="345.27" stroke="#98cfae" stroke-width="1"/>
<line x1="232.35" y1="347.54" x2="232.35" y2="351.33" stroke="#98cfae" stroke-width="1"/>
<line x1="229.75" y1="347.54" x2="234.95" y2="347.54" stroke="#98cfae" stroke-width="1"/>
<line x1="229.75" y1="351.33" x2="234.95" y2="351.33" stroke="#98cfae" stroke-width="1"/>
<circle cx="69.19" cy="271.97" r="2.55" fill="#72b096" stroke="#1c4240" stroke-width="1.2"/>
<circle cx="101.83" cy="270.84" r="2.55" fill="#72b096" stroke="#1c4240" stroke-width="1.2"/>
<circle cx="134.46" cy="283.15" r="2.55" fill="#72b096" stroke="#1c4240" stroke-width="1.2"/>
<circle cx="167.09" cy="312.50" r="2.55" fill="#72b096" stroke="#1c4240" stroke-width="1.2"/>
<circle cx="199.72" cy="343.38" r="2.55" fill="#72b096" stroke="#1c4240" stroke-width="1.2"/>
<circle cx="232.35" cy="349.44" r="2.55" fill="#72b096" stroke="#1c4240" stroke-width="1.2"/>
<g clip-path="url(#clipC)"><polyline points="54.20,266.10 69.19,267.99 101.83,268.94 134.46,268.18 167.09,303.13 199.72,339.97 232.35,343.38" fill="none" stroke="#4f2a80" stroke-width="1.0" stroke-linejoin="round"/></g>
<line x1="69.19" y1="266.10" x2="69.19" y2="269.89" stroke="#5a3a88" stroke-width="1"/>
<line x1="66.59" y1="266.10" x2="71.79" y2="266.10" stroke="#5a3a88" stroke-width="1"/>
<line x1="66.59" y1="269.89" x2="71.79" y2="269.89" stroke="#5a3a88" stroke-width="1"/>
<line x1="101.83" y1="267.05" x2="101.83" y2="270.84" stroke="#5a3a88" stroke-width="1"/>
<line x1="99.23" y1="267.05" x2="104.43" y2="267.05" stroke="#5a3a88" stroke-width="1"/>
<line x1="99.23" y1="270.84" x2="104.43" y2="270.84" stroke="#5a3a88" stroke-width="1"/>
<line x1="134.46" y1="266.29" x2="134.46" y2="270.08" stroke="#5a3a88" stroke-width="1"/>
<line x1="131.86" y1="266.29" x2="137.06" y2="266.29" stroke="#5a3a88" stroke-width="1"/>
<line x1="131.86" y1="270.08" x2="137.06" y2="270.08" stroke="#5a3a88" stroke-width="1"/>
<line x1="167.09" y1="301.23" x2="167.09" y2="305.02" stroke="#5a3a88" stroke-width="1"/>
<line x1="164.49" y1="301.23" x2="169.69" y2="301.23" stroke="#5a3a88" stroke-width="1"/>
<line x1="164.49" y1="305.02" x2="169.69" y2="305.02" stroke="#5a3a88" stroke-width="1"/>
<line x1="199.72" y1="338.07" x2="199.72" y2="341.86" stroke="#5a3a88" stroke-width="1"/>
<line x1="197.12" y1="338.07" x2="202.32" y2="338.07" stroke="#5a3a88" stroke-width="1"/>
<line x1="197.12" y1="341.86" x2="202.32" y2="341.86" stroke="#5a3a88" stroke-width="1"/>
<line x1="232.35" y1="342.43" x2="232.35" y2="344.32" stroke="#5a3a88" stroke-width="1"/>
<line x1="229.75" y1="342.43" x2="234.95" y2="342.43" stroke="#5a3a88" stroke-width="1"/>
<line x1="229.75" y1="344.32" x2="234.95" y2="344.32" stroke="#5a3a88" stroke-width="1"/>
<circle cx="69.19" cy="267.99" r="2.55" fill="#441c70" stroke="#23103a" stroke-width="1.2"/>
<circle cx="101.83" cy="268.94" r="2.55" fill="#441c70" stroke="#23103a" stroke-width="1.2"/>
<circle cx="134.46" cy="268.18" r="2.55" fill="#441c70" stroke="#23103a" stroke-width="1.2"/>
<circle cx="167.09" cy="303.13" r="2.55" fill="#441c70" stroke="#23103a" stroke-width="1.2"/>
<circle cx="199.72" cy="339.97" r="2.55" fill="#441c70" stroke="#23103a" stroke-width="1.2"/>
<circle cx="232.35" cy="343.38" r="2.55" fill="#441c70" stroke="#23103a" stroke-width="1.2"/>
<g clip-path="url(#clipC)"><polyline points="54.20,266.10 69.19,268.47 101.83,269.89 134.46,285.99 167.09,317.71 199.72,346.97 232.35,351.33" fill="none" stroke="#3b72ad" stroke-width="1.0" stroke-linejoin="round"/></g>
<line x1="69.19" y1="265.63" x2="69.19" y2="271.31" stroke="#6f9fcf" stroke-width="1"/>
<line x1="66.59" y1="265.63" x2="71.79" y2="265.63" stroke="#6f9fcf" stroke-width="1"/>
<line x1="66.59" y1="271.31" x2="71.79" y2="271.31" stroke="#6f9fcf" stroke-width="1"/>
<line x1="101.83" y1="267.05" x2="101.83" y2="272.73" stroke="#6f9fcf" stroke-width="1"/>
<line x1="99.23" y1="267.05" x2="104.43" y2="267.05" stroke="#6f9fcf" stroke-width="1"/>
<line x1="99.23" y1="272.73" x2="104.43" y2="272.73" stroke="#6f9fcf" stroke-width="1"/>
<line x1="134.46" y1="279.36" x2="134.46" y2="292.62" stroke="#6f9fcf" stroke-width="1"/>
<line x1="131.86" y1="279.36" x2="137.06" y2="279.36" stroke="#6f9fcf" stroke-width="1"/>
<line x1="131.86" y1="292.62" x2="137.06" y2="292.62" stroke="#6f9fcf" stroke-width="1"/>
<line x1="167.09" y1="312.98" x2="167.09" y2="322.45" stroke="#6f9fcf" stroke-width="1"/>
<line x1="164.49" y1="312.98" x2="169.69" y2="312.98" stroke="#6f9fcf" stroke-width="1"/>
<line x1="164.49" y1="322.45" x2="169.69" y2="322.45" stroke="#6f9fcf" stroke-width="1"/>
<line x1="199.72" y1="345.08" x2="199.72" y2="348.87" stroke="#6f9fcf" stroke-width="1"/>
<line x1="197.12" y1="345.08" x2="202.32" y2="345.08" stroke="#6f9fcf" stroke-width="1"/>
<line x1="197.12" y1="348.87" x2="202.32" y2="348.87" stroke="#6f9fcf" stroke-width="1"/>
<line x1="232.35" y1="350.38" x2="232.35" y2="352.28" stroke="#6f9fcf" stroke-width="1"/>
<line x1="229.75" y1="350.38" x2="234.95" y2="350.38" stroke="#6f9fcf" stroke-width="1"/>
<line x1="229.75" y1="352.28" x2="234.95" y2="352.28" stroke="#6f9fcf" stroke-width="1"/>
<circle cx="69.19" cy="268.47" r="2.55" fill="#5592c8" stroke="#17324f" stroke-width="1.2"/>
<circle cx="101.83" cy="269.89" r="2.55" fill="#5592c8" stroke="#17324f" stroke-width="1.2"/>
<circle cx="134.46" cy="285.99" r="2.55" fill="#5592c8" stroke="#17324f" stroke-width="1.2"/>
<circle cx="167.09" cy="317.71" r="2.55" fill="#5592c8" stroke="#17324f" stroke-width="1.2"/>
<circle cx="199.72" cy="346.97" r="2.55" fill="#5592c8" stroke="#17324f" stroke-width="1.2"/>
<circle cx="232.35" cy="351.33" r="2.55" fill="#5592c8" stroke="#17324f" stroke-width="1.2"/>
<g clip-path="url(#clipC)"><polyline points="54.20,266.10 69.19,267.52 101.83,272.44 134.46,275.66 167.09,286.93 199.72,326.14 232.35,347.54" fill="none" stroke="#6cb2dc" stroke-width="1.0" stroke-linejoin="round"/></g>
<line x1="69.19" y1="264.68" x2="69.19" y2="270.36" stroke="#6cb2dc" stroke-width="1"/>
<line x1="66.59" y1="264.68" x2="71.79" y2="264.68" stroke="#6cb2dc" stroke-width="1"/>
<line x1="66.59" y1="270.36" x2="71.79" y2="270.36" stroke="#6cb2dc" stroke-width="1"/>
<line x1="101.83" y1="269.60" x2="101.83" y2="275.29" stroke="#6cb2dc" stroke-width="1"/>
<line x1="99.23" y1="269.60" x2="104.43" y2="269.60" stroke="#6cb2dc" stroke-width="1"/>
<line x1="99.23" y1="275.29" x2="104.43" y2="275.29" stroke="#6cb2dc" stroke-width="1"/>
<line x1="134.46" y1="272.82" x2="134.46" y2="278.51" stroke="#6cb2dc" stroke-width="1"/>
<line x1="131.86" y1="272.82" x2="137.06" y2="272.82" stroke="#6cb2dc" stroke-width="1"/>
<line x1="131.86" y1="278.51" x2="137.06" y2="278.51" stroke="#6cb2dc" stroke-width="1"/>
<line x1="167.09" y1="281.25" x2="167.09" y2="292.62" stroke="#6cb2dc" stroke-width="1"/>
<line x1="164.49" y1="281.25" x2="169.69" y2="281.25" stroke="#6cb2dc" stroke-width="1"/>
<line x1="164.49" y1="292.62" x2="169.69" y2="292.62" stroke="#6cb2dc" stroke-width="1"/>
<line x1="199.72" y1="323.30" x2="199.72" y2="328.98" stroke="#6cb2dc" stroke-width="1"/>
<line x1="197.12" y1="323.30" x2="202.32" y2="323.30" stroke="#6cb2dc" stroke-width="1"/>
<line x1="197.12" y1="328.98" x2="202.32" y2="328.98" stroke="#6cb2dc" stroke-width="1"/>
<line x1="232.35" y1="345.65" x2="232.35" y2="349.44" stroke="#6cb2dc" stroke-width="1"/>
<line x1="229.75" y1="345.65" x2="234.95" y2="345.65" stroke="#6cb2dc" stroke-width="1"/>
<line x1="229.75" y1="349.44" x2="234.95" y2="349.44" stroke="#6cb2dc" stroke-width="1"/>
<rect x="66.59" y="264.92" width="5.2" height="5.2" fill="#3f80c2" stroke="#182f4f" stroke-width="1.2"/>
<rect x="99.23" y="269.84" width="5.2" height="5.2" fill="#3f80c2" stroke="#182f4f" stroke-width="1.2"/>
<rect x="131.86" y="273.06" width="5.2" height="5.2" fill="#3f80c2" stroke="#182f4f" stroke-width="1.2"/>
<rect x="164.49" y="284.33" width="5.2" height="5.2" fill="#3f80c2" stroke="#182f4f" stroke-width="1.2"/>
<rect x="197.12" y="323.54" width="5.2" height="5.2" fill="#3f80c2" stroke="#182f4f" stroke-width="1.2"/>
<rect x="229.75" y="344.94" width="5.2" height="5.2" fill="#3f80c2" stroke="#182f4f" stroke-width="1.2"/>
<g clip-path="url(#clipC)"><polyline points="134.46,267.99 167.09,268.66 199.72,269.23 232.35,263.54" fill="none" stroke="#8a8a8a" stroke-width="1.0" stroke-linejoin="round"/></g>
<line x1="167.09" y1="265.82" x2="167.09" y2="271.50" stroke="#8a8a8a" stroke-width="1"/>
<line x1="164.49" y1="265.82" x2="169.69" y2="265.82" stroke="#8a8a8a" stroke-width="1"/>
<line x1="164.49" y1="271.50" x2="169.69" y2="271.50" stroke="#8a8a8a" stroke-width="1"/>
<line x1="199.72" y1="266.38" x2="199.72" y2="272.07" stroke="#8a8a8a" stroke-width="1"/>
<line x1="197.12" y1="266.38" x2="202.32" y2="266.38" stroke="#8a8a8a" stroke-width="1"/>
<line x1="197.12" y1="272.07" x2="202.32" y2="272.07" stroke="#8a8a8a" stroke-width="1"/>
<line x1="232.35" y1="260.70" x2="232.35" y2="266.38" stroke="#8a8a8a" stroke-width="1"/>
<line x1="229.75" y1="260.70" x2="234.95" y2="260.70" stroke="#8a8a8a" stroke-width="1"/>
<line x1="229.75" y1="266.38" x2="234.95" y2="266.38" stroke="#8a8a8a" stroke-width="1"/>
<circle cx="167.09" cy="268.66" r="2.55" fill="#7c7c7c" stroke="#1e1e1e" stroke-width="1.2"/>
<circle cx="199.72" cy="269.23" r="2.55" fill="#7c7c7c" stroke="#1e1e1e" stroke-width="1.2"/>
<circle cx="232.35" cy="263.54" r="2.55" fill="#7c7c7c" stroke="#1e1e1e" stroke-width="1.2"/>
<polyline points="54.20,266.10 69.19,240.72 101.83,239.96 134.46,259.47 167.09,260.89 199.72,262.12 232.35,260.80" fill="none" stroke="#a8a8a8" stroke-width="1.0" stroke-linejoin="round"/>
<line x1="69.19" y1="226.52" x2="69.19" y2="254.93" stroke="#a8a8a8" stroke-width="1"/>
<line x1="66.59" y1="226.52" x2="71.79" y2="226.52" stroke="#a8a8a8" stroke-width="1"/>
<line x1="66.59" y1="254.93" x2="71.79" y2="254.93" stroke="#a8a8a8" stroke-width="1"/>
<line x1="101.83" y1="225.76" x2="101.83" y2="254.17" stroke="#a8a8a8" stroke-width="1"/>
<line x1="99.23" y1="225.76" x2="104.43" y2="225.76" stroke="#a8a8a8" stroke-width="1"/>
<line x1="99.23" y1="254.17" x2="104.43" y2="254.17" stroke="#a8a8a8" stroke-width="1"/>
<line x1="134.46" y1="257.58" x2="134.46" y2="261.37" stroke="#a8a8a8" stroke-width="1"/>
<line x1="131.86" y1="257.58" x2="137.06" y2="257.58" stroke="#a8a8a8" stroke-width="1"/>
<line x1="131.86" y1="261.37" x2="137.06" y2="261.37" stroke="#a8a8a8" stroke-width="1"/>
<line x1="167.09" y1="259.00" x2="167.09" y2="262.79" stroke="#a8a8a8" stroke-width="1"/>
<line x1="164.49" y1="259.00" x2="169.69" y2="259.00" stroke="#a8a8a8" stroke-width="1"/>
<line x1="164.49" y1="262.79" x2="169.69" y2="262.79" stroke="#a8a8a8" stroke-width="1"/>
<line x1="199.72" y1="252.65" x2="199.72" y2="271.59" stroke="#a8a8a8" stroke-width="1"/>
<line x1="197.12" y1="252.65" x2="202.32" y2="252.65" stroke="#a8a8a8" stroke-width="1"/>
<line x1="197.12" y1="271.59" x2="202.32" y2="271.59" stroke="#a8a8a8" stroke-width="1"/>
<line x1="232.35" y1="253.22" x2="232.35" y2="268.37" stroke="#a8a8a8" stroke-width="1"/>
<line x1="229.75" y1="253.22" x2="234.95" y2="253.22" stroke="#a8a8a8" stroke-width="1"/>
<line x1="229.75" y1="268.37" x2="234.95" y2="268.37" stroke="#a8a8a8" stroke-width="1"/>
<circle cx="69.19" cy="240.72" r="2.55" fill="#9c9c9c" stroke="#2a2a2a" stroke-width="1.2"/>
<circle cx="101.83" cy="239.96" r="2.55" fill="#9c9c9c" stroke="#2a2a2a" stroke-width="1.2"/>
<circle cx="134.46" cy="259.47" r="2.55" fill="#9c9c9c" stroke="#2a2a2a" stroke-width="1.2"/>
<circle cx="167.09" cy="260.89" r="2.55" fill="#9c9c9c" stroke="#2a2a2a" stroke-width="1.2"/>
<circle cx="199.72" cy="262.12" r="2.55" fill="#9c9c9c" stroke="#2a2a2a" stroke-width="1.2"/>
<circle cx="232.35" cy="260.80" r="2.55" fill="#9c9c9c" stroke="#2a2a2a" stroke-width="1.2"/>
<g clip-path="url(#clipC)"><polyline points="54.20,266.10 69.19,264.21 101.83,261.74 134.46,259.85 167.09,259.66 199.72,331.25 232.35,350.10" fill="none" stroke="#222" stroke-width="1.1" stroke-linejoin="round"/></g>
<line x1="69.19" y1="261.37" x2="69.19" y2="267.05" stroke="#222" stroke-width="1"/>
<line x1="66.59" y1="261.37" x2="71.79" y2="261.37" stroke="#222" stroke-width="1"/>
<line x1="66.59" y1="267.05" x2="71.79" y2="267.05" stroke="#222" stroke-width="1"/>
<line x1="101.83" y1="258.90" x2="101.83" y2="264.58" stroke="#222" stroke-width="1"/>
<line x1="99.23" y1="258.90" x2="104.43" y2="258.90" stroke="#222" stroke-width="1"/>
<line x1="99.23" y1="264.58" x2="104.43" y2="264.58" stroke="#222" stroke-width="1"/>
<line x1="134.46" y1="257.96" x2="134.46" y2="261.74" stroke="#222" stroke-width="1"/>
<line x1="131.86" y1="257.96" x2="137.06" y2="257.96" stroke="#222" stroke-width="1"/>
<line x1="131.86" y1="261.74" x2="137.06" y2="261.74" stroke="#222" stroke-width="1"/>
<line x1="167.09" y1="249.24" x2="167.09" y2="270.08" stroke="#222" stroke-width="1"/>
<line x1="164.49" y1="249.24" x2="169.69" y2="249.24" stroke="#222" stroke-width="1"/>
<line x1="164.49" y1="270.08" x2="169.69" y2="270.08" stroke="#222" stroke-width="1"/>
<line x1="199.72" y1="328.41" x2="199.72" y2="334.09" stroke="#222" stroke-width="1"/>
<line x1="197.12" y1="328.41" x2="202.32" y2="328.41" stroke="#222" stroke-width="1"/>
<line x1="197.12" y1="334.09" x2="202.32" y2="334.09" stroke="#222" stroke-width="1"/>
<line x1="232.35" y1="349.15" x2="232.35" y2="351.05" stroke="#222" stroke-width="1"/>
<line x1="229.75" y1="349.15" x2="234.95" y2="349.15" stroke="#222" stroke-width="1"/>
<line x1="229.75" y1="351.05" x2="234.95" y2="351.05" stroke="#222" stroke-width="1"/>
<circle cx="69.19" cy="264.21" r="2.55" fill="#ffffff" stroke="#111" stroke-width="1.2"/>
<circle cx="101.83" cy="261.74" r="2.55" fill="#ffffff" stroke="#111" stroke-width="1.2"/>
<circle cx="134.46" cy="259.85" r="2.55" fill="#ffffff" stroke="#111" stroke-width="1.2"/>
<circle cx="167.09" cy="259.66" r="2.55" fill="#ffffff" stroke="#111" stroke-width="1.2"/>
<circle cx="199.72" cy="331.25" r="2.55" fill="#ffffff" stroke="#111" stroke-width="1.2"/>
<circle cx="232.35" cy="350.10" r="2.55" fill="#ffffff" stroke="#111" stroke-width="1.2"/>
</g>
<line x1="56.20" y1="266.10" x2="58.60" y2="266.10" stroke="#111" stroke-width="1.1"/>
<circle cx="54.20" cy="266.10" r="2.6" fill="#fff" stroke="#111" stroke-width="1.3"/>
<clipPath id="clipE"><rect x="64.00" y="411.1" width="200" height="160"/></clipPath>
<line x1="53.60" y1="513.70" x2="230.00" y2="513.70" stroke="#222" stroke-width="1" stroke-dasharray="1 1.3"/>
<line x1="53.6" y1="425.78" x2="53.6" y2="563.90" stroke="#2b2b2b" stroke-width="1.1"/>
<line x1="50.40" y1="561.10" x2="53.6" y2="561.10" stroke="#2b2b2b" stroke-width="1"/>
<text x="47.00" y="564.00" font-size="8" text-anchor="end" fill="#2a2a2a" font-family="Liberation Sans, sans-serif" text-rendering="geometricPrecision">0</text>
<line x1="52.00" y1="551.62" x2="53.6" y2="551.62" stroke="#2b2b2b" stroke-width="1"/>
<line x1="50.40" y1="542.14" x2="53.6" y2="542.14" stroke="#2b2b2b" stroke-width="1"/>
<text x="47.00" y="545.04" font-size="8" text-anchor="end" fill="#2a2a2a" font-family="Liberation Sans, sans-serif" text-rendering="geometricPrecision">20</text>
<line x1="52.00" y1="532.66" x2="53.6" y2="532.66" stroke="#2b2b2b" stroke-width="1"/>
<line x1="50.40" y1="523.18" x2="53.6" y2="523.18" stroke="#2b2b2b" stroke-width="1"/>
<text x="47.00" y="526.08" font-size="8" text-anchor="end" fill="#2a2a2a" font-family="Liberation Sans, sans-serif" text-rendering="geometricPrecision">40</text>
<line x1="52.00" y1="513.70" x2="53.6" y2="513.70" stroke="#2b2b2b" stroke-width="1"/>
<line x1="50.40" y1="504.22" x2="53.6" y2="504.22" stroke="#2b2b2b" stroke-width="1"/>
<text x="47.00" y="507.12" font-size="8" text-anchor="end" fill="#2a2a2a" font-family="Liberation Sans, sans-serif" text-rendering="geometricPrecision">60</text>
<line x1="52.00" y1="494.74" x2="53.6" y2="494.74" stroke="#2b2b2b" stroke-width="1"/>
<line x1="50.40" y1="485.26" x2="53.6" y2="485.26" stroke="#2b2b2b" stroke-width="1"/>
<text x="47.00" y="488.16" font-size="8" text-anchor="end" fill="#2a2a2a" font-family="Liberation Sans, sans-serif" text-rendering="geometricPrecision">80</text>
<line x1="52.00" y1="475.78" x2="53.6" y2="475.78" stroke="#2b2b2b" stroke-width="1"/>
<line x1="50.40" y1="466.30" x2="53.6" y2="466.30" stroke="#2b2b2b" stroke-width="1"/>
<text x="47.00" y="469.20" font-size="8" text-anchor="end" fill="#2a2a2a" font-family="Liberation Sans, sans-serif" text-rendering="geometricPrecision">100</text>
<line x1="52.00" y1="456.82" x2="53.6" y2="456.82" stroke="#2b2b2b" stroke-width="1"/>
<line x1="50.40" y1="447.34" x2="53.6" y2="447.34" stroke="#2b2b2b" stroke-width="1"/>
<text x="47.00" y="450.24" font-size="8" text-anchor="end" fill="#2a2a2a" font-family="Liberation Sans, sans-serif" text-rendering="geometricPrecision">120</text>
<line x1="52.00" y1="437.86" x2="53.6" y2="437.86" stroke="#2b2b2b" stroke-width="1"/>
<line x1="50.40" y1="428.38" x2="53.6" y2="428.38" stroke="#2b2b2b" stroke-width="1"/>
<text x="47.00" y="431.28" font-size="8" text-anchor="end" fill="#2a2a2a" font-family="Liberation Sans, sans-serif" text-rendering="geometricPrecision">140</text>
<line x1="50.4" y1="561.10" x2="58.80" y2="561.10" stroke="#2b2b2b" stroke-width="1.1"/>
<line x1="58.80" y1="560.10" x2="58.80" y2="562.10" stroke="#2b2b2b" stroke-width="1"/>
<line x1="64.60" y1="561.10" x2="230.00" y2="561.10" stroke="#2b2b2b" stroke-width="1.1"/>
<line x1="64.60" y1="560.10" x2="64.60" y2="562.10" stroke="#2b2b2b" stroke-width="1"/>
<line x1="64.60" y1="561.10" x2="64.60" y2="564.10" stroke="#2b2b2b" stroke-width="1"/>
<line x1="80.83" y1="561.10" x2="80.83" y2="562.70" stroke="#2b2b2b" stroke-width="1"/>
<line x1="90.32" y1="561.10" x2="90.32" y2="562.70" stroke="#2b2b2b" stroke-width="1"/>
<line x1="97.05" y1="561.10" x2="97.05" y2="562.70" stroke="#2b2b2b" stroke-width="1"/>
<line x1="102.27" y1="561.10" x2="102.27" y2="562.70" stroke="#2b2b2b" stroke-width="1"/>
<line x1="106.54" y1="561.10" x2="106.54" y2="562.70" stroke="#2b2b2b" stroke-width="1"/>
<line x1="110.15" y1="561.10" x2="110.15" y2="562.70" stroke="#2b2b2b" stroke-width="1"/>
<line x1="113.28" y1="561.10" x2="113.28" y2="562.70" stroke="#2b2b2b" stroke-width="1"/>
<line x1="116.03" y1="561.10" x2="116.03" y2="562.70" stroke="#2b2b2b" stroke-width="1"/>
<line x1="118.50" y1="561.10" x2="118.50" y2="564.10" stroke="#2b2b2b" stroke-width="1"/>
<line x1="134.73" y1="561.10" x2="134.73" y2="562.70" stroke="#2b2b2b" stroke-width="1"/>
<line x1="144.22" y1="561.10" x2="144.22" y2="562.70" stroke="#2b2b2b" stroke-width="1"/>
<line x1="150.95" y1="561.10" x2="150.95" y2="562.70" stroke="#2b2b2b" stroke-width="1"/>
<line x1="156.17" y1="561.10" x2="156.17" y2="562.70" stroke="#2b2b2b" stroke-width="1"/>
<line x1="160.44" y1="561.10" x2="160.44" y2="562.70" stroke="#2b2b2b" stroke-width="1"/>
<line x1="164.05" y1="561.10" x2="164.05" y2="562.70" stroke="#2b2b2b" stroke-width="1"/>
<line x1="167.18" y1="561.10" x2="167.18" y2="562.70" stroke="#2b2b2b" stroke-width="1"/>
<line x1="169.93" y1="561.10" x2="169.93" y2="562.70" stroke="#2b2b2b" stroke-width="1"/>
<line x1="172.40" y1="561.10" x2="172.40" y2="564.10" stroke="#2b2b2b" stroke-width="1"/>
<line x1="188.63" y1="561.10" x2="188.63" y2="562.70" stroke="#2b2b2b" stroke-width="1"/>
<line x1="198.12" y1="561.10" x2="198.12" y2="562.70" stroke="#2b2b2b" stroke-width="1"/>
<line x1="204.85" y1="561.10" x2="204.85" y2="562.70" stroke="#2b2b2b" stroke-width="1"/>
<line x1="210.07" y1="561.10" x2="210.07" y2="562.70" stroke="#2b2b2b" stroke-width="1"/>
<line x1="214.34" y1="561.10" x2="214.34" y2="562.70" stroke="#2b2b2b" stroke-width="1"/>
<line x1="217.95" y1="561.10" x2="217.95" y2="562.70" stroke="#2b2b2b" stroke-width="1"/>
<line x1="221.08" y1="561.10" x2="221.08" y2="562.70" stroke="#2b2b2b" stroke-width="1"/>
<line x1="223.83" y1="561.10" x2="223.83" y2="562.70" stroke="#2b2b2b" stroke-width="1"/>
<line x1="226.30" y1="561.10" x2="226.30" y2="564.10" stroke="#2b2b2b" stroke-width="1"/>
<text x="64.60" y="574.90" font-size="8" text-anchor="middle" fill="#2a2a2a" font-family="Liberation Sans, sans-serif" text-rendering="geometricPrecision">0.01</text>
<text x="118.50" y="574.90" font-size="8" text-anchor="middle" fill="#2a2a2a" font-family="Liberation Sans, sans-serif" text-rendering="geometricPrecision">0.1</text>
<text x="172.40" y="574.90" font-size="8" text-anchor="middle" fill="#2a2a2a" font-family="Liberation Sans, sans-serif" text-rendering="geometricPrecision">1</text>
<text x="226.30" y="574.90" font-size="8" text-anchor="middle" fill="#2a2a2a" font-family="Liberation Sans, sans-serif" text-rendering="geometricPrecision">10</text>
<text x="88.80" y="589.50" font-size="10" fill="#2a2a2a" font-family="Liberation Sans, sans-serif" text-rendering="geometricPrecision" textLength="106.2" lengthAdjust="spacingAndGlyphs">Concentration bosutinib (μM)</text>
<text transform="translate(27.0,556.9) rotate(-90)" x="0" y="0" font-size="10.3" fill="#2a2a2a" font-family="Liberation Sans, sans-serif" text-rendering="geometricPrecision" textLength="127.3" lengthAdjust="spacingAndGlyphs">% Viable cells (exposed/unexposed)</text>
<text x="7.2" y="417.6" font-size="12" font-weight="bold" fill="#111" stroke="#111" stroke-width="0.25" font-family="Liberation Sans, sans-serif" text-rendering="geometricPrecision">E</text>
<clipPath id="topE"><rect x="0" y="427.78" width="260" height="143.32"/></clipPath>
<g clip-path="url(#topE)">
<g clip-path="url(#clipE)"><polyline points="53.60,466.30 112.72,468.20 128.95,467.63 145.17,468.86 161.40,477.77 177.62,495.50 193.85,507.06 210.07,543.94" fill="none" stroke="#94487f" stroke-width="1.0" stroke-linejoin="round"/></g>
<line x1="112.72" y1="466.30" x2="112.72" y2="470.09" stroke="#c98abb" stroke-width="1"/>
<line x1="110.12" y1="466.30" x2="115.32" y2="466.30" stroke="#c98abb" stroke-width="1"/>
<line x1="110.12" y1="470.09" x2="115.32" y2="470.09" stroke="#c98abb" stroke-width="1"/>
<line x1="128.95" y1="465.73" x2="128.95" y2="469.52" stroke="#c98abb" stroke-width="1"/>
<line x1="126.35" y1="465.73" x2="131.55" y2="465.73" stroke="#c98abb" stroke-width="1"/>
<line x1="126.35" y1="469.52" x2="131.55" y2="469.52" stroke="#c98abb" stroke-width="1"/>
<line x1="145.17" y1="466.02" x2="145.17" y2="471.70" stroke="#c98abb" stroke-width="1"/>
<line x1="142.57" y1="466.02" x2="147.77" y2="466.02" stroke="#c98abb" stroke-width="1"/>
<line x1="142.57" y1="471.70" x2="147.77" y2="471.70" stroke="#c98abb" stroke-width="1"/>
<line x1="161.40" y1="474.93" x2="161.40" y2="480.61" stroke="#c98abb" stroke-width="1"/>
<line x1="158.80" y1="474.93" x2="164.00" y2="474.93" stroke="#c98abb" stroke-width="1"/>
<line x1="158.80" y1="480.61" x2="164.00" y2="480.61" stroke="#c98abb" stroke-width="1"/>
<line x1="177.62" y1="477.49" x2="177.62" y2="513.51" stroke="#c98abb" stroke-width="1"/>
<line x1="175.02" y1="477.49" x2="180.22" y2="477.49" stroke="#c98abb" stroke-width="1"/>
<line x1="175.02" y1="513.51" x2="180.22" y2="513.51" stroke="#c98abb" stroke-width="1"/>
<line x1="193.85" y1="490.00" x2="193.85" y2="524.13" stroke="#c98abb" stroke-width="1"/>
<line x1="191.25" y1="490.00" x2="196.45" y2="490.00" stroke="#c98abb" stroke-width="1"/>
<line x1="191.25" y1="524.13" x2="196.45" y2="524.13" stroke="#c98abb" stroke-width="1"/>
<line x1="210.07" y1="530.67" x2="210.07" y2="557.21" stroke="#c98abb" stroke-width="1"/>
<line x1="207.47" y1="530.67" x2="212.67" y2="530.67" stroke="#c98abb" stroke-width="1"/>
<line x1="207.47" y1="557.21" x2="212.67" y2="557.21" stroke="#c98abb" stroke-width="1"/>
<circle cx="112.72" cy="468.20" r="2.55" fill="#9a5c8c" stroke="#3e1634" stroke-width="1.2"/>
<circle cx="128.95" cy="467.63" r="2.55" fill="#9a5c8c" stroke="#3e1634" stroke-width="1.2"/>
<circle cx="145.17" cy="468.86" r="2.55" fill="#9a5c8c" stroke="#3e1634" stroke-width="1.2"/>
<circle cx="161.40" cy="477.77" r="2.55" fill="#9a5c8c" stroke="#3e1634" stroke-width="1.2"/>
<circle cx="177.62" cy="495.50" r="2.55" fill="#9a5c8c" stroke="#3e1634" stroke-width="1.2"/>
<circle cx="193.85" cy="507.06" r="2.55" fill="#9a5c8c" stroke="#3e1634" stroke-width="1.2"/>
<circle cx="210.07" cy="543.94" r="2.55" fill="#9a5c8c" stroke="#3e1634" stroke-width="1.2"/>
<g clip-path="url(#clipE)"><polyline points="53.60,466.30 112.72,472.94 128.95,473.69 145.17,495.50 161.40,520.15 177.62,539.96 193.85,551.62 210.07,559.20" fill="none" stroke="#98cfae" stroke-width="1.0" stroke-linejoin="round"/></g>
<line x1="112.72" y1="470.09" x2="112.72" y2="475.78" stroke="#98cfae" stroke-width="1"/>
<line x1="110.12" y1="470.09" x2="115.32" y2="470.09" stroke="#98cfae" stroke-width="1"/>
<line x1="110.12" y1="475.78" x2="115.32" y2="475.78" stroke="#98cfae" stroke-width="1"/>
<line x1="128.95" y1="470.85" x2="128.95" y2="476.54" stroke="#98cfae" stroke-width="1"/>
<line x1="126.35" y1="470.85" x2="131.55" y2="470.85" stroke="#98cfae" stroke-width="1"/>
<line x1="126.35" y1="476.54" x2="131.55" y2="476.54" stroke="#98cfae" stroke-width="1"/>
<line x1="145.17" y1="492.65" x2="145.17" y2="498.34" stroke="#98cfae" stroke-width="1"/>
<line x1="142.57" y1="492.65" x2="147.77" y2="492.65" stroke="#98cfae" stroke-width="1"/>
<line x1="142.57" y1="498.34" x2="147.77" y2="498.34" stroke="#98cfae" stroke-width="1"/>
<line x1="161.40" y1="513.51" x2="161.40" y2="526.78" stroke="#98cfae" stroke-width="1"/>
<line x1="158.80" y1="513.51" x2="164.00" y2="513.51" stroke="#98cfae" stroke-width="1"/>
<line x1="158.80" y1="526.78" x2="164.00" y2="526.78" stroke="#98cfae" stroke-width="1"/>
<line x1="177.62" y1="538.06" x2="177.62" y2="541.86" stroke="#98cfae" stroke-width="1"/>
<line x1="175.02" y1="538.06" x2="180.22" y2="538.06" stroke="#98cfae" stroke-width="1"/>
<line x1="175.02" y1="541.86" x2="180.22" y2="541.86" stroke="#98cfae" stroke-width="1"/>
<line x1="193.85" y1="549.72" x2="193.85" y2="553.52" stroke="#98cfae" stroke-width="1"/>
<line x1="191.25" y1="549.72" x2="196.45" y2="549.72" stroke="#98cfae" stroke-width="1"/>
<line x1="191.25" y1="553.52" x2="196.45" y2="553.52" stroke="#98cfae" stroke-width="1"/>
<line x1="210.07" y1="558.26" x2="210.07" y2="560.15" stroke="#98cfae" stroke-width="1"/>
<line x1="207.47" y1="558.26" x2="212.67" y2="558.26" stroke="#98cfae" stroke-width="1"/>
<line x1="207.47" y1="560.15" x2="212.67" y2="560.15" stroke="#98cfae" stroke-width="1"/>
<circle cx="112.72" cy="472.94" r="2.55" fill="#72b096" stroke="#1c4240" stroke-width="1.2"/>
<circle cx="128.95" cy="473.69" r="2.55" fill="#72b096" stroke="#1c4240" stroke-width="1.2"/>
<circle cx="145.17" cy="495.50" r="2.55" fill="#72b096" stroke="#1c4240" stroke-width="1.2"/>
<circle cx="161.40" cy="520.15" r="2.55" fill="#72b096" stroke="#1c4240" stroke-width="1.2"/>
<circle cx="177.62" cy="539.96" r="2.55" fill="#72b096" stroke="#1c4240" stroke-width="1.2"/>
<circle cx="193.85" cy="551.62" r="2.55" fill="#72b096" stroke="#1c4240" stroke-width="1.2"/>
<circle cx="210.07" cy="559.20" r="2.55" fill="#72b096" stroke="#1c4240" stroke-width="1.2"/>
<g clip-path="url(#clipE)"><polyline points="53.60,466.30 112.72,469.14 128.95,469.14 145.17,474.36 161.40,484.69 177.62,510.67 193.85,541.67 210.07,558.26" fill="none" stroke="#4f2a80" stroke-width="1.0" stroke-linejoin="round"/></g>
<line x1="112.72" y1="467.25" x2="112.72" y2="471.04" stroke="#5a3a88" stroke-width="1"/>
<line x1="110.12" y1="467.25" x2="115.32" y2="467.25" stroke="#5a3a88" stroke-width="1"/>
<line x1="110.12" y1="471.04" x2="115.32" y2="471.04" stroke="#5a3a88" stroke-width="1"/>
<line x1="128.95" y1="467.25" x2="128.95" y2="471.04" stroke="#5a3a88" stroke-width="1"/>
<line x1="126.35" y1="467.25" x2="131.55" y2="467.25" stroke="#5a3a88" stroke-width="1"/>
<line x1="126.35" y1="471.04" x2="131.55" y2="471.04" stroke="#5a3a88" stroke-width="1"/>
<line x1="145.17" y1="472.46" x2="145.17" y2="476.25" stroke="#5a3a88" stroke-width="1"/>
<line x1="142.57" y1="472.46" x2="147.77" y2="472.46" stroke="#5a3a88" stroke-width="1"/>
<line x1="142.57" y1="476.25" x2="147.77" y2="476.25" stroke="#5a3a88" stroke-width="1"/>
<line x1="161.40" y1="481.85" x2="161.40" y2="487.54" stroke="#5a3a88" stroke-width="1"/>
<line x1="158.80" y1="481.85" x2="164.00" y2="481.85" stroke="#5a3a88" stroke-width="1"/>
<line x1="158.80" y1="487.54" x2="164.00" y2="487.54" stroke="#5a3a88" stroke-width="1"/>
<line x1="177.62" y1="505.93" x2="177.62" y2="515.41" stroke="#5a3a88" stroke-width="1"/>
<line x1="175.02" y1="505.93" x2="180.22" y2="505.93" stroke="#5a3a88" stroke-width="1"/>
<line x1="175.02" y1="515.41" x2="180.22" y2="515.41" stroke="#5a3a88" stroke-width="1"/>
<line x1="193.85" y1="538.82" x2="193.85" y2="544.51" stroke="#5a3a88" stroke-width="1"/>
<line x1="191.25" y1="538.82" x2="196.45" y2="538.82" stroke="#5a3a88" stroke-width="1"/>
<line x1="191.25" y1="544.51" x2="196.45" y2="544.51" stroke="#5a3a88" stroke-width="1"/>
<line x1="210.07" y1="557.31" x2="210.07" y2="559.20" stroke="#5a3a88" stroke-width="1"/>
<line x1="207.47" y1="557.31" x2="212.67" y2="557.31" stroke="#5a3a88" stroke-width="1"/>
<line x1="207.47" y1="559.20" x2="212.67" y2="559.20" stroke="#5a3a88" stroke-width="1"/>
<circle cx="112.72" cy="469.14" r="2.55" fill="#441c70" stroke="#23103a" stroke-width="1.2"/>
<circle cx="128.95" cy="469.14" r="2.55" fill="#441c70" stroke="#23103a" stroke-width="1.2"/>
<circle cx="145.17" cy="474.36" r="2.55" fill="#441c70" stroke="#23103a" stroke-width="1.2"/>
<circle cx="161.40" cy="484.69" r="2.55" fill="#441c70" stroke="#23103a" stroke-width="1.2"/>
<circle cx="177.62" cy="510.67" r="2.55" fill="#441c70" stroke="#23103a" stroke-width="1.2"/>
<circle cx="193.85" cy="541.67" r="2.55" fill="#441c70" stroke="#23103a" stroke-width="1.2"/>
<circle cx="210.07" cy="558.26" r="2.55" fill="#441c70" stroke="#23103a" stroke-width="1.2"/>
<g clip-path="url(#clipE)"><polyline points="53.60,466.30 112.72,479.38 128.95,485.26 145.17,517.49 161.40,539.11 177.62,549.16 193.85,553.52 210.07,559.20" fill="none" stroke="#3b72ad" stroke-width="1.0" stroke-linejoin="round"/></g>
<line x1="112.72" y1="476.54" x2="112.72" y2="482.23" stroke="#6f9fcf" stroke-width="1"/>
<line x1="110.12" y1="476.54" x2="115.32" y2="476.54" stroke="#6f9fcf" stroke-width="1"/>
<line x1="110.12" y1="482.23" x2="115.32" y2="482.23" stroke="#6f9fcf" stroke-width="1"/>
<line x1="128.95" y1="482.42" x2="128.95" y2="488.10" stroke="#6f9fcf" stroke-width="1"/>
<line x1="126.35" y1="482.42" x2="131.55" y2="482.42" stroke="#6f9fcf" stroke-width="1"/>
<line x1="126.35" y1="488.10" x2="131.55" y2="488.10" stroke="#6f9fcf" stroke-width="1"/>
<line x1="145.17" y1="514.65" x2="145.17" y2="520.34" stroke="#6f9fcf" stroke-width="1"/>
<line x1="142.57" y1="514.65" x2="147.77" y2="514.65" stroke="#6f9fcf" stroke-width="1"/>
<line x1="142.57" y1="520.34" x2="147.77" y2="520.34" stroke="#6f9fcf" stroke-width="1"/>
<line x1="161.40" y1="537.21" x2="161.40" y2="541.00" stroke="#6f9fcf" stroke-width="1"/>
<line x1="158.80" y1="537.21" x2="164.00" y2="537.21" stroke="#6f9fcf" stroke-width="1"/>
<line x1="158.80" y1="541.00" x2="164.00" y2="541.00" stroke="#6f9fcf" stroke-width="1"/>
<line x1="177.62" y1="547.26" x2="177.62" y2="551.05" stroke="#6f9fcf" stroke-width="1"/>
<line x1="175.02" y1="547.26" x2="180.22" y2="547.26" stroke="#6f9fcf" stroke-width="1"/>
<line x1="175.02" y1="551.05" x2="180.22" y2="551.05" stroke="#6f9fcf" stroke-width="1"/>
<line x1="193.85" y1="552.57" x2="193.85" y2="554.46" stroke="#6f9fcf" stroke-width="1"/>
<line x1="191.25" y1="552.57" x2="196.45" y2="552.57" stroke="#6f9fcf" stroke-width="1"/>
<line x1="191.25" y1="554.46" x2="196.45" y2="554.46" stroke="#6f9fcf" stroke-width="1"/>
<line x1="210.07" y1="558.26" x2="210.07" y2="560.15" stroke="#6f9fcf" stroke-width="1"/>
<line x1="207.47" y1="558.26" x2="212.67" y2="558.26" stroke="#6f9fcf" stroke-width="1"/>
<line x1="207.47" y1="560.15" x2="212.67" y2="560.15" stroke="#6f9fcf" stroke-width="1"/>
<circle cx="112.72" cy="479.38" r="2.55" fill="#5592c8" stroke="#17324f" stroke-width="1.2"/>
<circle cx="128.95" cy="485.26" r="2.55" fill="#5592c8" stroke="#17324f" stroke-width="1.2"/>
<circle cx="145.17" cy="517.49" r="2.55" fill="#5592c8" stroke="#17324f" stroke-width="1.2"/>
<circle cx="161.40" cy="539.11" r="2.55" fill="#5592c8" stroke="#17324f" stroke-width="1.2"/>
<circle cx="177.62" cy="549.16" r="2.55" fill="#5592c8" stroke="#17324f" stroke-width="1.2"/>
<circle cx="193.85" cy="553.52" r="2.55" fill="#5592c8" stroke="#17324f" stroke-width="1.2"/>
<circle cx="210.07" cy="559.20" r="2.55" fill="#5592c8" stroke="#17324f" stroke-width="1.2"/>
<g clip-path="url(#clipE)"><polyline points="53.60,466.30 112.72,476.25 128.95,478.34 145.17,488.58 161.40,511.42 177.62,536.45 193.85,551.62 210.07,559.20" fill="none" stroke="#6cb2dc" stroke-width="1.0" stroke-linejoin="round"/></g>
<line x1="112.72" y1="470.57" x2="112.72" y2="481.94" stroke="#6cb2dc" stroke-width="1"/>
<line x1="110.12" y1="470.57" x2="115.32" y2="470.57" stroke="#6cb2dc" stroke-width="1"/>
<line x1="110.12" y1="481.94" x2="115.32" y2="481.94" stroke="#6cb2dc" stroke-width="1"/>
<line x1="128.95" y1="475.50" x2="128.95" y2="481.18" stroke="#6cb2dc" stroke-width="1"/>
<line x1="126.35" y1="475.50" x2="131.55" y2="475.50" stroke="#6cb2dc" stroke-width="1"/>
<line x1="126.35" y1="481.18" x2="131.55" y2="481.18" stroke="#6cb2dc" stroke-width="1"/>
<line x1="145.17" y1="485.73" x2="145.17" y2="491.42" stroke="#6cb2dc" stroke-width="1"/>
<line x1="142.57" y1="485.73" x2="147.77" y2="485.73" stroke="#6cb2dc" stroke-width="1"/>
<line x1="142.57" y1="491.42" x2="147.77" y2="491.42" stroke="#6cb2dc" stroke-width="1"/>
<line x1="161.40" y1="507.63" x2="161.40" y2="515.22" stroke="#6cb2dc" stroke-width="1"/>
<line x1="158.80" y1="507.63" x2="164.00" y2="507.63" stroke="#6cb2dc" stroke-width="1"/>
<line x1="158.80" y1="515.22" x2="164.00" y2="515.22" stroke="#6cb2dc" stroke-width="1"/>
<line x1="177.62" y1="533.61" x2="177.62" y2="539.30" stroke="#6cb2dc" stroke-width="1"/>
<line x1="175.02" y1="533.61" x2="180.22" y2="533.61" stroke="#6cb2dc" stroke-width="1"/>
<line x1="175.02" y1="539.30" x2="180.22" y2="539.30" stroke="#6cb2dc" stroke-width="1"/>
<line x1="193.85" y1="549.72" x2="193.85" y2="553.52" stroke="#6cb2dc" stroke-width="1"/>
<line x1="191.25" y1="549.72" x2="196.45" y2="549.72" stroke="#6cb2dc" stroke-width="1"/>
<line x1="191.25" y1="553.52" x2="196.45" y2="553.52" stroke="#6cb2dc" stroke-width="1"/>
<line x1="210.07" y1="558.26" x2="210.07" y2="560.15" stroke="#6cb2dc" stroke-width="1"/>
<line x1="207.47" y1="558.26" x2="212.67" y2="558.26" stroke="#6cb2dc" stroke-width="1"/>
<line x1="207.47" y1="560.15" x2="212.67" y2="560.15" stroke="#6cb2dc" stroke-width="1"/>
<rect x="110.12" y="473.65" width="5.2" height="5.2" fill="#3f80c2" stroke="#182f4f" stroke-width="1.2"/>
<rect x="126.35" y="475.74" width="5.2" height="5.2" fill="#3f80c2" stroke="#182f4f" stroke-width="1.2"/>
<rect x="142.57" y="485.98" width="5.2" height="5.2" fill="#3f80c2" stroke="#182f4f" stroke-width="1.2"/>
<rect x="158.80" y="508.82" width="5.2" height="5.2" fill="#3f80c2" stroke="#182f4f" stroke-width="1.2"/>
<rect x="175.02" y="533.85" width="5.2" height="5.2" fill="#3f80c2" stroke="#182f4f" stroke-width="1.2"/>
<rect x="191.25" y="549.02" width="5.2" height="5.2" fill="#3f80c2" stroke="#182f4f" stroke-width="1.2"/>
<rect x="207.47" y="556.60" width="5.2" height="5.2" fill="#3f80c2" stroke="#182f4f" stroke-width="1.2"/>
<g clip-path="url(#clipE)"><polyline points="161.40,478.15 177.62,464.88 193.85,461.47 210.07,452.27" fill="none" stroke="#8a8a8a" stroke-width="1.0" stroke-linejoin="round"/></g>
<line x1="161.40" y1="471.51" x2="161.40" y2="484.79" stroke="#8a8a8a" stroke-width="1"/>
<line x1="158.80" y1="471.51" x2="164.00" y2="471.51" stroke="#8a8a8a" stroke-width="1"/>
<line x1="158.80" y1="484.79" x2="164.00" y2="484.79" stroke="#8a8a8a" stroke-width="1"/>
<line x1="177.62" y1="460.33" x2="177.62" y2="469.43" stroke="#8a8a8a" stroke-width="1"/>
<line x1="175.02" y1="460.33" x2="180.22" y2="460.33" stroke="#8a8a8a" stroke-width="1"/>
<line x1="175.02" y1="469.43" x2="180.22" y2="469.43" stroke="#8a8a8a" stroke-width="1"/>
<line x1="193.85" y1="456.35" x2="193.85" y2="466.58" stroke="#8a8a8a" stroke-width="1"/>
<line x1="191.25" y1="456.35" x2="196.45" y2="456.35" stroke="#8a8a8a" stroke-width="1"/>
<line x1="191.25" y1="466.58" x2="196.45" y2="466.58" stroke="#8a8a8a" stroke-width="1"/>
<line x1="210.07" y1="442.32" x2="210.07" y2="462.22" stroke="#8a8a8a" stroke-width="1"/>
<line x1="207.47" y1="442.32" x2="212.67" y2="442.32" stroke="#8a8a8a" stroke-width="1"/>
<line x1="207.47" y1="462.22" x2="212.67" y2="462.22" stroke="#8a8a8a" stroke-width="1"/>
<circle cx="161.40" cy="478.15" r="2.55" fill="#9a6a96" stroke="#1e1e1e" stroke-width="1.2"/>
<circle cx="177.62" cy="464.88" r="2.55" fill="#7c7c7c" stroke="#1e1e1e" stroke-width="1.2"/>
<circle cx="193.85" cy="461.47" r="2.55" fill="#7c7c7c" stroke="#1e1e1e" stroke-width="1.2"/>
<circle cx="210.07" cy="452.27" r="2.55" fill="#7c7c7c" stroke="#1e1e1e" stroke-width="1.2"/>
<g clip-path="url(#clipE)"><polyline points="53.60,466.30 112.72,449.99 128.95,446.30 145.17,443.36 161.40,441.18 177.62,440.80 193.85,442.32 210.07,434.54" fill="none" stroke="#a8a8a8" stroke-width="1.0" stroke-linejoin="round"/></g>
<line x1="112.72" y1="438.62" x2="112.72" y2="461.37" stroke="#a8a8a8" stroke-width="1"/>
<line x1="110.12" y1="438.62" x2="115.32" y2="438.62" stroke="#a8a8a8" stroke-width="1"/>
<line x1="110.12" y1="461.37" x2="115.32" y2="461.37" stroke="#a8a8a8" stroke-width="1"/>
<line x1="128.95" y1="428.29" x2="128.95" y2="464.31" stroke="#a8a8a8" stroke-width="1"/>
<line x1="126.35" y1="428.29" x2="131.55" y2="428.29" stroke="#a8a8a8" stroke-width="1"/>
<line x1="126.35" y1="464.31" x2="131.55" y2="464.31" stroke="#a8a8a8" stroke-width="1"/>
<line x1="145.17" y1="428.19" x2="145.17" y2="458.53" stroke="#a8a8a8" stroke-width="1"/>
<line x1="142.57" y1="428.19" x2="147.77" y2="428.19" stroke="#a8a8a8" stroke-width="1"/>
<line x1="142.57" y1="458.53" x2="147.77" y2="458.53" stroke="#a8a8a8" stroke-width="1"/>
<line x1="161.40" y1="426.48" x2="161.40" y2="455.87" stroke="#a8a8a8" stroke-width="1"/>
<line x1="158.80" y1="426.48" x2="164.00" y2="426.48" stroke="#a8a8a8" stroke-width="1"/>
<line x1="158.80" y1="455.87" x2="164.00" y2="455.87" stroke="#a8a8a8" stroke-width="1"/>
<line x1="177.62" y1="427.53" x2="177.62" y2="454.07" stroke="#a8a8a8" stroke-width="1"/>
<line x1="175.02" y1="427.53" x2="180.22" y2="427.53" stroke="#a8a8a8" stroke-width="1"/>
<line x1="175.02" y1="454.07" x2="180.22" y2="454.07" stroke="#a8a8a8" stroke-width="1"/>
<line x1="193.85" y1="438.05" x2="193.85" y2="446.58" stroke="#a8a8a8" stroke-width="1"/>
<line x1="191.25" y1="438.05" x2="196.45" y2="438.05" stroke="#a8a8a8" stroke-width="1"/>
<line x1="191.25" y1="446.58" x2="196.45" y2="446.58" stroke="#a8a8a8" stroke-width="1"/>
<line x1="210.07" y1="433.59" x2="210.07" y2="435.49" stroke="#a8a8a8" stroke-width="1"/>
<line x1="207.47" y1="433.59" x2="212.67" y2="433.59" stroke="#a8a8a8" stroke-width="1"/>
<line x1="207.47" y1="435.49" x2="212.67" y2="435.49" stroke="#a8a8a8" stroke-width="1"/>
<circle cx="112.72" cy="449.99" r="2.55" fill="#9c9c9c" stroke="#2a2a2a" stroke-width="1.2"/>
<circle cx="128.95" cy="446.30" r="2.55" fill="#9c9c9c" stroke="#2a2a2a" stroke-width="1.2"/>
<circle cx="145.17" cy="443.36" r="2.55" fill="#9c9c9c" stroke="#2a2a2a" stroke-width="1.2"/>
<circle cx="161.40" cy="441.18" r="2.55" fill="#9c9c9c" stroke="#2a2a2a" stroke-width="1.2"/>
<circle cx="177.62" cy="440.80" r="2.55" fill="#9c9c9c" stroke="#2a2a2a" stroke-width="1.2"/>
<circle cx="193.85" cy="442.32" r="2.55" fill="#9c9c9c" stroke="#2a2a2a" stroke-width="1.2"/>
<circle cx="210.07" cy="434.54" r="2.55" fill="#9c9c9c" stroke="#2a2a2a" stroke-width="1.2"/>
<g clip-path="url(#clipE)"><polyline points="53.60,466.30 112.72,462.79 128.95,461.18 145.17,458.05 161.40,494.17 177.62,531.33 193.85,549.82 210.07,559.01" fill="none" stroke="#222" stroke-width="1.1" stroke-linejoin="round"/></g>
<line x1="112.72" y1="460.90" x2="112.72" y2="464.69" stroke="#222" stroke-width="1"/>
<line x1="110.12" y1="460.90" x2="115.32" y2="460.90" stroke="#222" stroke-width="1"/>
<line x1="110.12" y1="464.69" x2="115.32" y2="464.69" stroke="#222" stroke-width="1"/>
<line x1="128.95" y1="459.28" x2="128.95" y2="463.08" stroke="#222" stroke-width="1"/>
<line x1="126.35" y1="459.28" x2="131.55" y2="459.28" stroke="#222" stroke-width="1"/>
<line x1="126.35" y1="463.08" x2="131.55" y2="463.08" stroke="#222" stroke-width="1"/>
<line x1="145.17" y1="451.61" x2="145.17" y2="464.50" stroke="#222" stroke-width="1"/>
<line x1="142.57" y1="451.61" x2="147.77" y2="451.61" stroke="#222" stroke-width="1"/>
<line x1="142.57" y1="464.50" x2="147.77" y2="464.50" stroke="#222" stroke-width="1"/>
<line x1="161.40" y1="490.38" x2="161.40" y2="497.96" stroke="#222" stroke-width="1"/>
<line x1="158.80" y1="490.38" x2="164.00" y2="490.38" stroke="#222" stroke-width="1"/>
<line x1="158.80" y1="497.96" x2="164.00" y2="497.96" stroke="#222" stroke-width="1"/>
<line x1="177.62" y1="523.75" x2="177.62" y2="538.92" stroke="#222" stroke-width="1"/>
<line x1="175.02" y1="523.75" x2="180.22" y2="523.75" stroke="#222" stroke-width="1"/>
<line x1="175.02" y1="538.92" x2="180.22" y2="538.92" stroke="#222" stroke-width="1"/>
<line x1="193.85" y1="547.92" x2="193.85" y2="551.71" stroke="#222" stroke-width="1"/>
<line x1="191.25" y1="547.92" x2="196.45" y2="547.92" stroke="#222" stroke-width="1"/>
<line x1="191.25" y1="551.71" x2="196.45" y2="551.71" stroke="#222" stroke-width="1"/>
<line x1="210.07" y1="558.07" x2="210.07" y2="559.96" stroke="#222" stroke-width="1"/>
<line x1="207.47" y1="558.07" x2="212.67" y2="558.07" stroke="#222" stroke-width="1"/>
<line x1="207.47" y1="559.96" x2="212.67" y2="559.96" stroke="#222" stroke-width="1"/>
<circle cx="112.72" cy="462.79" r="2.55" fill="#ffffff" stroke="#111" stroke-width="1.2"/>
<circle cx="128.95" cy="461.18" r="2.55" fill="#ffffff" stroke="#111" stroke-width="1.2"/>
<circle cx="145.17" cy="458.05" r="2.55" fill="#ffffff" stroke="#111" stroke-width="1.2"/>
<circle cx="161.40" cy="494.17" r="2.55" fill="#ffffff" stroke="#111" stroke-width="1.2"/>
<circle cx="177.62" cy="531.33" r="2.55" fill="#ffffff" stroke="#111" stroke-width="1.2"/>
<circle cx="193.85" cy="549.82" r="2.55" fill="#ffffff" stroke="#111" stroke-width="1.2"/>
<circle cx="210.07" cy="559.01" r="2.55" fill="#ffffff" stroke="#111" stroke-width="1.2"/>
</g>
<line x1="55.60" y1="466.30" x2="58.00" y2="466.30" stroke="#111" stroke-width="1.1"/>
<circle cx="53.60" cy="466.30" r="2.6" fill="#fff" stroke="#111" stroke-width="1.3"/>
<line x1="285.8" y1="33.10" x2="285.8" y2="161.00" stroke="#2b2b2b" stroke-width="1.1"/>
<line x1="285.8" y1="161.00" x2="389.2" y2="161.00" stroke="#2b2b2b" stroke-width="1.1"/>
<line x1="282.40" y1="161.00" x2="285.8" y2="161.00" stroke="#2b2b2b" stroke-width="1"/>
<text x="279.40" y="163.70" font-size="8" text-anchor="end" fill="#2a2a2a" font-family="Liberation Sans, sans-serif" text-rendering="geometricPrecision">0</text>
<line x1="284.10" y1="152.70" x2="285.8" y2="152.70" stroke="#2b2b2b" stroke-width="1"/>
<line x1="284.10" y1="144.40" x2="285.8" y2="144.40" stroke="#2b2b2b" stroke-width="1"/>
<line x1="284.10" y1="136.10" x2="285.8" y2="136.10" stroke="#2b2b2b" stroke-width="1"/>
<line x1="284.10" y1="127.80" x2="285.8" y2="127.80" stroke="#2b2b2b" stroke-width="1"/>
<line x1="282.40" y1="119.50" x2="285.8" y2="119.50" stroke="#2b2b2b" stroke-width="1"/>
<text x="279.40" y="122.20" font-size="8" text-anchor="end" fill="#2a2a2a" font-family="Liberation Sans, sans-serif" text-rendering="geometricPrecision">1</text>
<line x1="284.10" y1="111.20" x2="285.8" y2="111.20" stroke="#2b2b2b" stroke-width="1"/>
<line x1="284.10" y1="102.90" x2="285.8" y2="102.90" stroke="#2b2b2b" stroke-width="1"/>
<line x1="284.10" y1="94.60" x2="285.8" y2="94.60" stroke="#2b2b2b" stroke-width="1"/>
<line x1="284.10" y1="86.30" x2="285.8" y2="86.30" stroke="#2b2b2b" stroke-width="1"/>
<line x1="282.40" y1="78.00" x2="285.8" y2="78.00" stroke="#2b2b2b" stroke-width="1"/>
<text x="279.40" y="80.70" font-size="8" text-anchor="end" fill="#2a2a2a" font-family="Liberation Sans, sans-serif" text-rendering="geometricPrecision">2</text>
<line x1="284.10" y1="69.70" x2="285.8" y2="69.70" stroke="#2b2b2b" stroke-width="1"/>
<line x1="284.10" y1="61.40" x2="285.8" y2="61.40" stroke="#2b2b2b" stroke-width="1"/>
<line x1="284.10" y1="53.10" x2="285.8" y2="53.10" stroke="#2b2b2b" stroke-width="1"/>
<line x1="284.10" y1="44.80" x2="285.8" y2="44.80" stroke="#2b2b2b" stroke-width="1"/>
<line x1="282.40" y1="36.50" x2="285.8" y2="36.50" stroke="#2b2b2b" stroke-width="1"/>
<text x="279.40" y="39.20" font-size="8" text-anchor="end" fill="#2a2a2a" font-family="Liberation Sans, sans-serif" text-rendering="geometricPrecision">3</text>
<rect x="292.40" y="72.19" width="12.2" height="88.81" fill="#f6f2f0" stroke="#333" stroke-width="1"/>
<line x1="298.50" y1="58.08" x2="298.50" y2="86.30" stroke="#222" stroke-width="1"/>
<line x1="295.50" y1="58.08" x2="301.50" y2="58.08" stroke="#222" stroke-width="1"/>
<line x1="295.50" y1="86.30" x2="301.50" y2="86.30" stroke="#222" stroke-width="1"/>
<circle cx="298.50" cy="43.55" r="1.25" fill="#111"/>
<circle cx="295.90" cy="87.96" r="1.25" fill="#111"/>
<circle cx="301.20" cy="85.47" r="1.25" fill="#111"/>
<rect x="308.02" y="94.19" width="12.2" height="66.81" fill="#88c68f" stroke="#333" stroke-width="1"/>
<line x1="314.12" y1="75.92" x2="314.12" y2="112.44" stroke="#222" stroke-width="1"/>
<line x1="311.12" y1="75.92" x2="317.12" y2="75.92" stroke="#222" stroke-width="1"/>
<line x1="311.12" y1="112.44" x2="317.12" y2="112.44" stroke="#222" stroke-width="1"/>
<circle cx="314.12" cy="68.87" r="1.25" fill="#111"/>
<circle cx="314.12" cy="84.22" r="1.25" fill="#111"/>
<circle cx="314.12" cy="130.71" r="1.25" fill="#111"/>
<rect x="323.64" y="119.50" width="12.2" height="41.50" fill="#4a8bd3" stroke="#333" stroke-width="1"/>
<line x1="329.74" y1="107.05" x2="329.74" y2="131.95" stroke="#222" stroke-width="1"/>
<line x1="326.74" y1="107.05" x2="332.74" y2="107.05" stroke="#222" stroke-width="1"/>
<line x1="326.74" y1="131.95" x2="332.74" y2="131.95" stroke="#222" stroke-width="1"/>
<circle cx="329.74" cy="97.09" r="1.25" fill="#111"/>
<circle cx="329.74" cy="124.06" r="1.25" fill="#111"/>
<circle cx="329.74" cy="139.00" r="1.25" fill="#111"/>
<rect x="339.26" y="141.50" width="12.2" height="19.50" fill="#4a8bd3" stroke="#333" stroke-width="1"/>
<line x1="345.36" y1="140.25" x2="345.36" y2="142.74" stroke="#222" stroke-width="1"/>
<line x1="342.36" y1="140.25" x2="348.36" y2="140.25" stroke="#222" stroke-width="1"/>
<line x1="342.36" y1="142.74" x2="348.36" y2="142.74" stroke="#222" stroke-width="1"/>
<circle cx="343.36" cy="142.32" r="1.25" fill="#111"/>
<circle cx="345.36" cy="140.25" r="1.25" fill="#111"/>
<circle cx="347.36" cy="141.50" r="1.25" fill="#111"/>
<rect x="354.88" y="139.42" width="12.2" height="21.58" fill="#5c2389" stroke="#333" stroke-width="1"/>
<line x1="360.98" y1="138.59" x2="360.98" y2="140.25" stroke="#222" stroke-width="1"/>
<line x1="357.98" y1="138.59" x2="363.98" y2="138.59" stroke="#222" stroke-width="1"/>
<line x1="357.98" y1="140.25" x2="363.98" y2="140.25" stroke="#222" stroke-width="1"/>
<circle cx="358.98" cy="139.42" r="1.25" fill="#111"/>
<circle cx="360.98" cy="139.00" r="1.25" fill="#111"/>
<circle cx="362.98" cy="139.84" r="1.25" fill="#111"/>
<rect x="370.50" y="158.09" width="12.2" height="2.91" fill="#c5368e" stroke="#333" stroke-width="1"/>
<line x1="376.60" y1="157.68" x2="376.60" y2="158.51" stroke="#222" stroke-width="1"/>
<line x1="373.60" y1="157.68" x2="379.60" y2="157.68" stroke="#222" stroke-width="1"/>
<line x1="373.60" y1="158.51" x2="379.60" y2="158.51" stroke="#222" stroke-width="1"/>
<circle cx="374.60" cy="158.09" r="1.25" fill="#111"/>
<circle cx="376.60" cy="157.68" r="1.25" fill="#111"/>
<circle cx="378.60" cy="158.09" r="1.25" fill="#111"/>
<text transform="translate(268.0,132.3) rotate(-90)" font-size="8.7" fill="#2a2a2a" font-family="Liberation Sans, sans-serif" text-rendering="geometricPrecision" textLength="70" lengthAdjust="spacingAndGlyphs">IC50 imatinib (μM)</text>
<text x="248.7" y="24.2" font-size="12" font-weight="bold" fill="#111" stroke="#111" stroke-width="0.25" font-family="Liberation Sans, sans-serif" text-rendering="geometricPrecision">B</text>
<text x="392.8" y="70.80" font-size="8.5" fill="#2a2a2a" font-family="Liberation Sans, sans-serif" text-rendering="geometricPrecision" textLength="68.7" lengthAdjust="spacingAndGlyphs">IC50 <tspan font-style="italic">BCR</tspan>::<tspan font-style="italic">ABL1</tspan> =</text>
<text x="512.4" y="70.80" font-size="8.5" fill="#2a2a2a" text-anchor="end" font-family="Liberation Sans, sans-serif" text-rendering="geometricPrecision">2.14 μM</text>
<text x="392.8" y="82.30" font-size="8.5" fill="#2a2a2a" font-family="Liberation Sans, sans-serif" text-rendering="geometricPrecision" textLength="80.2" lengthAdjust="spacingAndGlyphs">IC50 <tspan font-style="italic">RCSD1</tspan>::<tspan font-style="italic">ABL2</tspan> =</text>
<text x="512.4" y="82.30" font-size="8.5" fill="#2a2a2a" text-anchor="end" font-family="Liberation Sans, sans-serif" text-rendering="geometricPrecision">1.61 μM</text>
<text x="392.8" y="93.80" font-size="8.5" fill="#2a2a2a" font-family="Liberation Sans, sans-serif" text-rendering="geometricPrecision" textLength="80.0" lengthAdjust="spacingAndGlyphs">IC50 <tspan font-style="italic">RCSD1</tspan>::<tspan font-style="italic">ABL1</tspan> =</text>
<text x="512.4" y="93.80" font-size="8.5" fill="#2a2a2a" text-anchor="end" font-family="Liberation Sans, sans-serif" text-rendering="geometricPrecision">1.00 μM</text>
<text x="392.8" y="105.30" font-size="8.5" fill="#2a2a2a" font-family="Liberation Sans, sans-serif" text-rendering="geometricPrecision" textLength="77.2" lengthAdjust="spacingAndGlyphs">IC50 <tspan font-style="italic">ZMIZ1</tspan>::<tspan font-style="italic">ABL1</tspan> =</text>
<text x="512.4" y="105.30" font-size="8.5" fill="#2a2a2a" text-anchor="end" font-family="Liberation Sans, sans-serif" text-rendering="geometricPrecision">0.47 μM</text>
<text x="392.8" y="116.80" font-size="8.5" fill="#2a2a2a" font-family="Liberation Sans, sans-serif" text-rendering="geometricPrecision" textLength="82.9" lengthAdjust="spacingAndGlyphs">IC50 <tspan font-style="italic">SSBP2</tspan>::<tspan font-style="italic">CSF1R</tspan> =</text>
<text x="512.4" y="116.80" font-size="8.5" fill="#2a2a2a" text-anchor="end" font-family="Liberation Sans, sans-serif" text-rendering="geometricPrecision">0.52 μM</text>
<text x="392.8" y="128.30" font-size="8.5" fill="#2a2a2a" font-family="Liberation Sans, sans-serif" text-rendering="geometricPrecision" textLength="84.9" lengthAdjust="spacingAndGlyphs">IC50 <tspan font-style="italic">EBF1</tspan>::<tspan font-style="italic">PDGFRB</tspan> =</text>
<text x="512.4" y="128.30" font-size="8.5" fill="#2a2a2a" text-anchor="end" font-family="Liberation Sans, sans-serif" text-rendering="geometricPrecision">0.07 μM</text>
<line x1="285.6" y1="231.62" x2="285.6" y2="360.70" stroke="#2b2b2b" stroke-width="1.1"/>
<line x1="285.6" y1="360.70" x2="389.2" y2="360.70" stroke="#2b2b2b" stroke-width="1.1"/>
<line x1="282.20" y1="360.70" x2="285.6" y2="360.70" stroke="#2b2b2b" stroke-width="1"/>
<text x="279.20" y="363.40" font-size="8" text-anchor="end" fill="#2a2a2a" font-family="Liberation Sans, sans-serif" text-rendering="geometricPrecision">0</text>
<line x1="283.90" y1="354.42" x2="285.6" y2="354.42" stroke="#2b2b2b" stroke-width="1"/>
<line x1="283.90" y1="348.13" x2="285.6" y2="348.13" stroke="#2b2b2b" stroke-width="1"/>
<line x1="283.90" y1="341.85" x2="285.6" y2="341.85" stroke="#2b2b2b" stroke-width="1"/>
<line x1="283.90" y1="335.56" x2="285.6" y2="335.56" stroke="#2b2b2b" stroke-width="1"/>
<line x1="282.20" y1="329.28" x2="285.6" y2="329.28" stroke="#2b2b2b" stroke-width="1"/>
<text x="279.20" y="331.98" font-size="8" text-anchor="end" fill="#2a2a2a" font-family="Liberation Sans, sans-serif" text-rendering="geometricPrecision">20</text>
<line x1="283.90" y1="323.00" x2="285.6" y2="323.00" stroke="#2b2b2b" stroke-width="1"/>
<line x1="283.90" y1="316.71" x2="285.6" y2="316.71" stroke="#2b2b2b" stroke-width="1"/>
<line x1="283.90" y1="310.43" x2="285.6" y2="310.43" stroke="#2b2b2b" stroke-width="1"/>
<line x1="283.90" y1="304.14" x2="285.6" y2="304.14" stroke="#2b2b2b" stroke-width="1"/>
<line x1="282.20" y1="297.86" x2="285.6" y2="297.86" stroke="#2b2b2b" stroke-width="1"/>
<text x="279.20" y="300.56" font-size="8" text-anchor="end" fill="#2a2a2a" font-family="Liberation Sans, sans-serif" text-rendering="geometricPrecision">40</text>
<line x1="283.90" y1="291.58" x2="285.6" y2="291.58" stroke="#2b2b2b" stroke-width="1"/>
<line x1="283.90" y1="285.29" x2="285.6" y2="285.29" stroke="#2b2b2b" stroke-width="1"/>
<line x1="283.90" y1="279.01" x2="285.6" y2="279.01" stroke="#2b2b2b" stroke-width="1"/>
<line x1="283.90" y1="272.72" x2="285.6" y2="272.72" stroke="#2b2b2b" stroke-width="1"/>
<line x1="282.20" y1="266.44" x2="285.6" y2="266.44" stroke="#2b2b2b" stroke-width="1"/>
<text x="279.20" y="269.14" font-size="8" text-anchor="end" fill="#2a2a2a" font-family="Liberation Sans, sans-serif" text-rendering="geometricPrecision">60</text>
<line x1="283.90" y1="260.16" x2="285.6" y2="260.16" stroke="#2b2b2b" stroke-width="1"/>
<line x1="283.90" y1="253.87" x2="285.6" y2="253.87" stroke="#2b2b2b" stroke-width="1"/>
<line x1="283.90" y1="247.59" x2="285.6" y2="247.59" stroke="#2b2b2b" stroke-width="1"/>
<line x1="283.90" y1="241.30" x2="285.6" y2="241.30" stroke="#2b2b2b" stroke-width="1"/>
<line x1="282.20" y1="235.02" x2="285.6" y2="235.02" stroke="#2b2b2b" stroke-width="1"/>
<text x="279.20" y="237.72" font-size="8" text-anchor="end" fill="#2a2a2a" font-family="Liberation Sans, sans-serif" text-rendering="geometricPrecision">80</text>
<rect x="292.40" y="330.22" width="12.2" height="30.48" fill="#f6f2f0" stroke="#333" stroke-width="1"/>
<line x1="298.50" y1="323.31" x2="298.50" y2="337.13" stroke="#222" stroke-width="1"/>
<line x1="295.50" y1="323.31" x2="301.50" y2="323.31" stroke="#222" stroke-width="1"/>
<line x1="295.50" y1="337.13" x2="301.50" y2="337.13" stroke="#222" stroke-width="1"/>
<circle cx="298.50" cy="317.97" r="1.25" fill="#111"/>
<circle cx="298.50" cy="331.48" r="1.25" fill="#111"/>
<circle cx="298.50" cy="340.59" r="1.25" fill="#111"/>
<rect x="308.02" y="350.96" width="12.2" height="9.74" fill="#88c68f" stroke="#333" stroke-width="1"/>
<line x1="314.12" y1="349.86" x2="314.12" y2="352.06" stroke="#222" stroke-width="1"/>
<line x1="311.12" y1="349.86" x2="317.12" y2="349.86" stroke="#222" stroke-width="1"/>
<line x1="311.12" y1="352.06" x2="317.12" y2="352.06" stroke="#222" stroke-width="1"/>
<circle cx="312.12" cy="350.49" r="1.25" fill="#111"/>
<circle cx="314.12" cy="352.06" r="1.25" fill="#111"/>
<circle cx="316.12" cy="350.02" r="1.25" fill="#111"/>
<rect x="323.64" y="339.81" width="12.2" height="20.89" fill="#4a8bd3" stroke="#333" stroke-width="1"/>
<line x1="329.74" y1="330.38" x2="329.74" y2="349.23" stroke="#222" stroke-width="1"/>
<line x1="326.74" y1="330.38" x2="332.74" y2="330.38" stroke="#222" stroke-width="1"/>
<line x1="326.74" y1="349.23" x2="332.74" y2="349.23" stroke="#222" stroke-width="1"/>
<circle cx="329.74" cy="321.43" r="1.25" fill="#111"/>
<circle cx="327.74" cy="348.13" r="1.25" fill="#111"/>
<circle cx="331.74" cy="348.76" r="1.25" fill="#111"/>
<rect x="339.26" y="352.53" width="12.2" height="8.17" fill="#4a8bd3" stroke="#333" stroke-width="1"/>
<line x1="345.36" y1="351.90" x2="345.36" y2="353.16" stroke="#222" stroke-width="1"/>
<line x1="342.36" y1="351.90" x2="348.36" y2="351.90" stroke="#222" stroke-width="1"/>
<line x1="342.36" y1="353.16" x2="348.36" y2="353.16" stroke="#222" stroke-width="1"/>
<circle cx="343.36" cy="352.06" r="1.25" fill="#111"/>
<circle cx="345.36" cy="353.16" r="1.25" fill="#111"/>
<circle cx="347.36" cy="352.53" r="1.25" fill="#111"/>
<rect x="354.88" y="350.17" width="12.2" height="10.53" fill="#5c2389" stroke="#333" stroke-width="1"/>
<line x1="360.98" y1="349.39" x2="360.98" y2="350.96" stroke="#222" stroke-width="1"/>
<line x1="357.98" y1="349.39" x2="363.98" y2="349.39" stroke="#222" stroke-width="1"/>
<line x1="357.98" y1="350.96" x2="363.98" y2="350.96" stroke="#222" stroke-width="1"/>
<circle cx="358.98" cy="349.39" r="1.25" fill="#111"/>
<circle cx="360.98" cy="350.80" r="1.25" fill="#111"/>
<circle cx="362.98" cy="350.49" r="1.25" fill="#111"/>
<rect x="370.50" y="309.01" width="12.2" height="51.69" fill="#c5368e" stroke="#333" stroke-width="1"/>
<line x1="376.60" y1="274.92" x2="376.60" y2="343.10" stroke="#222" stroke-width="1"/>
<line x1="373.60" y1="274.92" x2="379.60" y2="274.92" stroke="#222" stroke-width="1"/>
<line x1="373.60" y1="343.10" x2="379.60" y2="343.10" stroke="#222" stroke-width="1"/>
<circle cx="376.60" cy="240.83" r="1.25" fill="#111"/>
<circle cx="376.60" cy="334.15" r="1.25" fill="#111"/>
<circle cx="376.60" cy="350.80" r="1.25" fill="#111"/>
<text transform="translate(263.6,332.9) rotate(-90)" font-size="8.7" fill="#2a2a2a" font-family="Liberation Sans, sans-serif" text-rendering="geometricPrecision" textLength="71.6" lengthAdjust="spacingAndGlyphs">IC50 dasatinib (nM)</text>
<text x="242.7" y="224.1" font-size="12" font-weight="bold" fill="#111" stroke="#111" stroke-width="0.25" font-family="Liberation Sans, sans-serif" text-rendering="geometricPrecision">D</text>
<text x="392.8" y="269.80" font-size="8.5" fill="#2a2a2a" font-family="Liberation Sans, sans-serif" text-rendering="geometricPrecision" textLength="68.7" lengthAdjust="spacingAndGlyphs">IC50 <tspan font-style="italic">BCR</tspan>::<tspan font-style="italic">ABL1</tspan> =</text>
<text x="512.4" y="269.80" font-size="8.5" fill="#2a2a2a" text-anchor="end" font-family="Liberation Sans, sans-serif" text-rendering="geometricPrecision">19.4 nM</text>
<text x="392.8" y="281.40" font-size="8.5" fill="#2a2a2a" font-family="Liberation Sans, sans-serif" text-rendering="geometricPrecision" textLength="80.2" lengthAdjust="spacingAndGlyphs">IC50 <tspan font-style="italic">RCSD1</tspan>::<tspan font-style="italic">ABL2</tspan> =</text>
<text x="512.4" y="281.40" font-size="8.5" fill="#2a2a2a" text-anchor="end" font-family="Liberation Sans, sans-serif" text-rendering="geometricPrecision">6.2 nM</text>
<text x="392.8" y="293.00" font-size="8.5" fill="#2a2a2a" font-family="Liberation Sans, sans-serif" text-rendering="geometricPrecision" textLength="80.0" lengthAdjust="spacingAndGlyphs">IC50 <tspan font-style="italic">RCSD1</tspan>::<tspan font-style="italic">ABL1</tspan> =</text>
<text x="512.4" y="293.00" font-size="8.5" fill="#2a2a2a" text-anchor="end" font-family="Liberation Sans, sans-serif" text-rendering="geometricPrecision">13.3 nM</text>
<text x="392.8" y="304.60" font-size="8.5" fill="#2a2a2a" font-family="Liberation Sans, sans-serif" text-rendering="geometricPrecision" textLength="77.2" lengthAdjust="spacingAndGlyphs">IC50 <tspan font-style="italic">ZMIZ1</tspan>::<tspan font-style="italic">ABL1</tspan> =</text>
<text x="512.4" y="304.60" font-size="8.5" fill="#2a2a2a" text-anchor="end" font-family="Liberation Sans, sans-serif" text-rendering="geometricPrecision">5.2 nM</text>
<text x="392.8" y="316.20" font-size="8.5" fill="#2a2a2a" font-family="Liberation Sans, sans-serif" text-rendering="geometricPrecision" textLength="82.9" lengthAdjust="spacingAndGlyphs">IC50 <tspan font-style="italic">SSBP2</tspan>::<tspan font-style="italic">CSF1R</tspan> =</text>
<text x="512.4" y="316.20" font-size="8.5" fill="#2a2a2a" text-anchor="end" font-family="Liberation Sans, sans-serif" text-rendering="geometricPrecision">6.7 nM</text>
<text x="392.8" y="327.80" font-size="8.5" fill="#2a2a2a" font-family="Liberation Sans, sans-serif" text-rendering="geometricPrecision" textLength="84.9" lengthAdjust="spacingAndGlyphs">IC50 <tspan font-style="italic">EBF1</tspan>::<tspan font-style="italic">PDGFRB</tspan> =</text>
<text x="512.4" y="327.80" font-size="8.5" fill="#2a2a2a" text-anchor="end" font-family="Liberation Sans, sans-serif" text-rendering="geometricPrecision">32.9 nM</text>
<line x1="285.6" y1="431.60" x2="285.6" y2="560.70" stroke="#2b2b2b" stroke-width="1.1"/>
<line x1="285.6" y1="560.70" x2="389.2" y2="560.70" stroke="#2b2b2b" stroke-width="1.1"/>
<line x1="282.20" y1="560.70" x2="285.6" y2="560.70" stroke="#2b2b2b" stroke-width="1"/>
<text x="279.20" y="563.40" font-size="8" text-anchor="end" fill="#2a2a2a" font-family="Liberation Sans, sans-serif" text-rendering="geometricPrecision">0</text>
<line x1="283.90" y1="555.67" x2="285.6" y2="555.67" stroke="#2b2b2b" stroke-width="1"/>
<line x1="283.90" y1="550.64" x2="285.6" y2="550.64" stroke="#2b2b2b" stroke-width="1"/>
<line x1="283.90" y1="545.62" x2="285.6" y2="545.62" stroke="#2b2b2b" stroke-width="1"/>
<line x1="283.90" y1="540.59" x2="285.6" y2="540.59" stroke="#2b2b2b" stroke-width="1"/>
<line x1="282.20" y1="535.56" x2="285.6" y2="535.56" stroke="#2b2b2b" stroke-width="1"/>
<text x="279.20" y="538.26" font-size="8" text-anchor="end" fill="#2a2a2a" font-family="Liberation Sans, sans-serif" text-rendering="geometricPrecision">1</text>
<line x1="283.90" y1="530.53" x2="285.6" y2="530.53" stroke="#2b2b2b" stroke-width="1"/>
<line x1="283.90" y1="525.50" x2="285.6" y2="525.50" stroke="#2b2b2b" stroke-width="1"/>
<line x1="283.90" y1="520.48" x2="285.6" y2="520.48" stroke="#2b2b2b" stroke-width="1"/>
<line x1="283.90" y1="515.45" x2="285.6" y2="515.45" stroke="#2b2b2b" stroke-width="1"/>
<line x1="282.20" y1="510.42" x2="285.6" y2="510.42" stroke="#2b2b2b" stroke-width="1"/>
<text x="279.20" y="513.12" font-size="8" text-anchor="end" fill="#2a2a2a" font-family="Liberation Sans, sans-serif" text-rendering="geometricPrecision">2</text>
<line x1="283.90" y1="505.39" x2="285.6" y2="505.39" stroke="#2b2b2b" stroke-width="1"/>
<line x1="283.90" y1="500.36" x2="285.6" y2="500.36" stroke="#2b2b2b" stroke-width="1"/>
<line x1="283.90" y1="495.34" x2="285.6" y2="495.34" stroke="#2b2b2b" stroke-width="1"/>
<line x1="283.90" y1="490.31" x2="285.6" y2="490.31" stroke="#2b2b2b" stroke-width="1"/>
<line x1="282.20" y1="485.28" x2="285.6" y2="485.28" stroke="#2b2b2b" stroke-width="1"/>
<text x="279.20" y="487.98" font-size="8" text-anchor="end" fill="#2a2a2a" font-family="Liberation Sans, sans-serif" text-rendering="geometricPrecision">3</text>
<line x1="283.90" y1="480.25" x2="285.6" y2="480.25" stroke="#2b2b2b" stroke-width="1"/>
<line x1="283.90" y1="475.22" x2="285.6" y2="475.22" stroke="#2b2b2b" stroke-width="1"/>
<line x1="283.90" y1="470.20" x2="285.6" y2="470.20" stroke="#2b2b2b" stroke-width="1"/>
<line x1="283.90" y1="465.17" x2="285.6" y2="465.17" stroke="#2b2b2b" stroke-width="1"/>
<line x1="282.20" y1="460.14" x2="285.6" y2="460.14" stroke="#2b2b2b" stroke-width="1"/>
<text x="279.20" y="462.84" font-size="8" text-anchor="end" fill="#2a2a2a" font-family="Liberation Sans, sans-serif" text-rendering="geometricPrecision">4</text>
<line x1="283.90" y1="455.11" x2="285.6" y2="455.11" stroke="#2b2b2b" stroke-width="1"/>
<line x1="283.90" y1="450.08" x2="285.6" y2="450.08" stroke="#2b2b2b" stroke-width="1"/>
<line x1="283.90" y1="445.06" x2="285.6" y2="445.06" stroke="#2b2b2b" stroke-width="1"/>
<line x1="283.90" y1="440.03" x2="285.6" y2="440.03" stroke="#2b2b2b" stroke-width="1"/>
<line x1="282.20" y1="435.00" x2="285.6" y2="435.00" stroke="#2b2b2b" stroke-width="1"/>
<text x="279.20" y="437.70" font-size="8" text-anchor="end" fill="#2a2a2a" font-family="Liberation Sans, sans-serif" text-rendering="geometricPrecision">5</text>
<rect x="292.40" y="537.32" width="12.2" height="23.38" fill="#f6f2f0" stroke="#333" stroke-width="1"/>
<line x1="298.50" y1="533.55" x2="298.50" y2="541.09" stroke="#222" stroke-width="1"/>
<line x1="295.50" y1="533.55" x2="301.50" y2="533.55" stroke="#222" stroke-width="1"/>
<line x1="295.50" y1="541.09" x2="301.50" y2="541.09" stroke="#222" stroke-width="1"/>
<circle cx="298.50" cy="529.53" r="1.25" fill="#111"/>
<circle cx="296.50" cy="541.34" r="1.25" fill="#111"/>
<circle cx="300.50" cy="541.09" r="1.25" fill="#111"/>
<rect x="308.02" y="545.62" width="12.2" height="15.08" fill="#88c68f" stroke="#333" stroke-width="1"/>
<line x1="314.12" y1="543.10" x2="314.12" y2="548.13" stroke="#222" stroke-width="1"/>
<line x1="311.12" y1="543.10" x2="317.12" y2="543.10" stroke="#222" stroke-width="1"/>
<line x1="311.12" y1="548.13" x2="317.12" y2="548.13" stroke="#222" stroke-width="1"/>
<circle cx="312.12" cy="543.10" r="1.25" fill="#111"/>
<circle cx="316.12" cy="544.36" r="1.25" fill="#111"/>
<circle cx="314.12" cy="549.39" r="1.25" fill="#111"/>
<rect x="323.64" y="543.35" width="12.2" height="17.35" fill="#4a8bd3" stroke="#333" stroke-width="1"/>
<line x1="329.74" y1="539.08" x2="329.74" y2="547.63" stroke="#222" stroke-width="1"/>
<line x1="326.74" y1="539.08" x2="332.74" y2="539.08" stroke="#222" stroke-width="1"/>
<line x1="326.74" y1="547.63" x2="332.74" y2="547.63" stroke="#222" stroke-width="1"/>
<circle cx="329.74" cy="534.55" r="1.25" fill="#111"/>
<circle cx="327.74" cy="546.87" r="1.25" fill="#111"/>
<circle cx="331.74" cy="548.13" r="1.25" fill="#111"/>
<rect x="339.26" y="553.16" width="12.2" height="7.54" fill="#4a8bd3" stroke="#333" stroke-width="1"/>
<line x1="345.36" y1="552.66" x2="345.36" y2="553.66" stroke="#222" stroke-width="1"/>
<line x1="342.36" y1="552.66" x2="348.36" y2="552.66" stroke="#222" stroke-width="1"/>
<line x1="342.36" y1="553.66" x2="348.36" y2="553.66" stroke="#222" stroke-width="1"/>
<circle cx="343.36" cy="552.91" r="1.25" fill="#111"/>
<circle cx="345.36" cy="553.41" r="1.25" fill="#111"/>
<circle cx="347.36" cy="553.16" r="1.25" fill="#111"/>
<rect x="354.88" y="526.01" width="12.2" height="34.69" fill="#5c2389" stroke="#333" stroke-width="1"/>
<line x1="360.98" y1="522.24" x2="360.98" y2="529.78" stroke="#222" stroke-width="1"/>
<line x1="357.98" y1="522.24" x2="363.98" y2="522.24" stroke="#222" stroke-width="1"/>
<line x1="357.98" y1="529.78" x2="363.98" y2="529.78" stroke="#222" stroke-width="1"/>
<circle cx="360.98" cy="519.72" r="1.25" fill="#111"/>
<circle cx="360.98" cy="528.02" r="1.25" fill="#111"/>
<circle cx="358.98" cy="530.53" r="1.25" fill="#111"/>
<rect x="370.50" y="492.82" width="12.2" height="67.88" fill="#c5368e" stroke="#333" stroke-width="1"/>
<line x1="376.60" y1="470.20" x2="376.60" y2="515.45" stroke="#222" stroke-width="1"/>
<line x1="373.60" y1="470.20" x2="379.60" y2="470.20" stroke="#222" stroke-width="1"/>
<line x1="373.60" y1="515.45" x2="379.60" y2="515.45" stroke="#222" stroke-width="1"/>
<circle cx="376.60" cy="446.31" r="1.25" fill="#111"/>
<circle cx="376.60" cy="514.44" r="1.25" fill="#111"/>
<circle cx="376.60" cy="517.46" r="1.25" fill="#111"/>
<text transform="translate(268.0,533.3) rotate(-90)" font-size="8.7" fill="#2a2a2a" font-family="Liberation Sans, sans-serif" text-rendering="geometricPrecision" textLength="73" lengthAdjust="spacingAndGlyphs">IC50 bosutinib (μM)</text>
<text x="249.5" y="424.0" font-size="12" font-weight="bold" fill="#111" stroke="#111" stroke-width="0.25" font-family="Liberation Sans, sans-serif" text-rendering="geometricPrecision">F</text>
<text x="392.8" y="469.80" font-size="8.5" fill="#2a2a2a" font-family="Liberation Sans, sans-serif" text-rendering="geometricPrecision" textLength="68.7" lengthAdjust="spacingAndGlyphs">IC50 <tspan font-style="italic">BCR</tspan>::<tspan font-style="italic">ABL1</tspan> =</text>
<text x="512.4" y="469.80" font-size="8.5" fill="#2a2a2a" text-anchor="end" font-family="Liberation Sans, sans-serif" text-rendering="geometricPrecision">0.93 μM</text>
<text x="392.8" y="481.25" font-size="8.5" fill="#2a2a2a" font-family="Liberation Sans, sans-serif" text-rendering="geometricPrecision" textLength="80.2" lengthAdjust="spacingAndGlyphs">IC50 <tspan font-style="italic">RCSD1</tspan>::<tspan font-style="normal">ABL2</tspan> =</text>
<text x="512.4" y="481.25" font-size="8.5" fill="#2a2a2a" text-anchor="end" font-family="Liberation Sans, sans-serif" text-rendering="geometricPrecision">0.60 μM</text>
<text x="392.8" y="492.70" font-size="8.5" fill="#2a2a2a" font-family="Liberation Sans, sans-serif" text-rendering="geometricPrecision" textLength="80.0" lengthAdjust="spacingAndGlyphs">IC50 <tspan font-style="italic">RCSD1</tspan>::<tspan font-style="italic">ABL1</tspan> =</text>
<text x="512.4" y="492.70" font-size="8.5" fill="#2a2a2a" text-anchor="end" font-family="Liberation Sans, sans-serif" text-rendering="geometricPrecision">0.69 μM</text>
<text x="392.8" y="504.15" font-size="8.5" fill="#2a2a2a" font-family="Liberation Sans, sans-serif" text-rendering="geometricPrecision" textLength="77.2" lengthAdjust="spacingAndGlyphs">IC50 <tspan font-style="italic">ZMIZ1</tspan>::<tspan font-style="italic">ABL1</tspan> =</text>
<text x="512.4" y="504.15" font-size="8.5" fill="#2a2a2a" text-anchor="end" font-family="Liberation Sans, sans-serif" text-rendering="geometricPrecision">0.30 μM</text>
<text x="392.8" y="515.60" font-size="8.5" fill="#2a2a2a" font-family="Liberation Sans, sans-serif" text-rendering="geometricPrecision" textLength="82.9" lengthAdjust="spacingAndGlyphs">IC50 <tspan font-style="italic">SSBP2</tspan>::<tspan font-style="italic">CSF1R</tspan> =</text>
<text x="512.4" y="515.60" font-size="8.5" fill="#2a2a2a" text-anchor="end" font-family="Liberation Sans, sans-serif" text-rendering="geometricPrecision">1.38 μM</text>
<text x="392.8" y="527.05" font-size="8.5" fill="#2a2a2a" font-family="Liberation Sans, sans-serif" text-rendering="geometricPrecision" textLength="84.9" lengthAdjust="spacingAndGlyphs">IC50 <tspan font-style="italic">EBF1</tspan>::<tspan font-style="italic">PDGFRB</tspan> =</text>
<text x="512.4" y="527.05" font-size="8.5" fill="#2a2a2a" text-anchor="end" font-family="Liberation Sans, sans-serif" text-rendering="geometricPrecision">2.70 μM</text>
<line x1="121.90" y1="607.70" x2="137.30" y2="607.70" stroke="#222" stroke-width="1.1"/>
<circle cx="129.60" cy="607.70" r="2.55" fill="#9c9c9c" stroke="#2a2a2a" stroke-width="1.2"/>
<text x="140.80" y="610.70" font-size="8.4" fill="#2a2a2a" font-family="Liberation Sans, sans-serif" text-rendering="geometricPrecision" textLength="20.8" lengthAdjust="spacingAndGlyphs">pGFP</text>
<line x1="168.10" y1="607.70" x2="183.50" y2="607.70" stroke="#222" stroke-width="1.1"/>
<circle cx="175.80" cy="607.70" r="2.55" fill="#7c7c7c" stroke="#1e1e1e" stroke-width="1.2"/>
<text x="187.00" y="610.70" font-size="8.4" fill="#2a2a2a" font-family="Liberation Sans, sans-serif" text-rendering="geometricPrecision" textLength="48.0" lengthAdjust="spacingAndGlyphs">empty vector</text>
<line x1="241.50" y1="607.70" x2="256.20" y2="607.70" stroke="#222" stroke-width="1.1"/>
<circle cx="248.85" cy="607.70" r="2.55" fill="#ffffff" stroke="#111" stroke-width="1.2"/>
<text x="260.30" y="610.70" font-size="8.4" fill="#2a2a2a" font-family="Liberation Sans, sans-serif" text-rendering="geometricPrecision" textLength="38.6" lengthAdjust="spacingAndGlyphs"><tspan font-style="italic">BCR</tspan>::<tspan font-style="italic">ABL1</tspan></text>
<line x1="24.20" y1="623.30" x2="40.40" y2="623.30" stroke="#222" stroke-width="1.1"/>
<circle cx="32.30" cy="623.30" r="2.55" fill="#72b096" stroke="#1c4240" stroke-width="1.2"/>
<text x="43.00" y="626.30" font-size="8.4" fill="#2a2a2a" font-family="Liberation Sans, sans-serif" text-rendering="geometricPrecision" textLength="49.6" lengthAdjust="spacingAndGlyphs"><tspan font-style="italic">RCSD1</tspan>::<tspan font-style="italic">ABL2</tspan></text>
<line x1="98.70" y1="623.30" x2="114.60" y2="623.30" stroke="#222" stroke-width="1.1"/>
<rect x="104.05" y="620.70" width="5.2" height="5.2" fill="#3f80c2" stroke="#182f4f" stroke-width="1.2"/>
<text x="118.30" y="626.30" font-size="8.4" fill="#2a2a2a" font-family="Liberation Sans, sans-serif" text-rendering="geometricPrecision" textLength="48.9" lengthAdjust="spacingAndGlyphs"><tspan font-style="italic">RCSD1</tspan>::<tspan font-style="italic">ABL1</tspan></text>
<line x1="174.20" y1="623.30" x2="189.20" y2="623.30" stroke="#222" stroke-width="1.1"/>
<circle cx="181.70" cy="623.30" r="2.55" fill="#5592c8" stroke="#17324f" stroke-width="1.2"/>
<text x="193.50" y="626.30" font-size="8.4" fill="#2a2a2a" font-family="Liberation Sans, sans-serif" text-rendering="geometricPrecision" textLength="45.2" lengthAdjust="spacingAndGlyphs"><tspan font-style="italic">ZMIZ1</tspan>::<tspan font-style="italic">ABL1</tspan></text>
<line x1="246.90" y1="623.30" x2="262.30" y2="623.30" stroke="#222" stroke-width="1.1"/>
<circle cx="254.60" cy="623.30" r="2.55" fill="#441c70" stroke="#23103a" stroke-width="1.2"/>
<text x="264.30" y="626.30" font-size="8.4" fill="#2a2a2a" font-family="Liberation Sans, sans-serif" text-rendering="geometricPrecision" textLength="52.6" lengthAdjust="spacingAndGlyphs"><tspan font-style="italic">SSBP2</tspan>::<tspan font-style="italic">CSF1R</tspan></text>
<line x1="323.30" y1="623.30" x2="340.20" y2="623.30" stroke="#222" stroke-width="1.1"/>
<circle cx="331.75" cy="623.30" r="2.55" fill="#9a5c8c" stroke="#3e1634" stroke-width="1.2"/>
<text x="341.60" y="626.30" font-size="8.4" fill="#2a2a2a" font-family="Liberation Sans, sans-serif" text-rendering="geometricPrecision" textLength="54.8" lengthAdjust="spacingAndGlyphs"><tspan font-style="italic">EBF1</tspan>::<tspan font-style="italic">PDGFRB</tspan></text>
<rect x="0.5" y="0.5" width="519" height="634" fill="none" stroke="#4a4a4a" stroke-width="1"/>
</svg>
</body></html>
